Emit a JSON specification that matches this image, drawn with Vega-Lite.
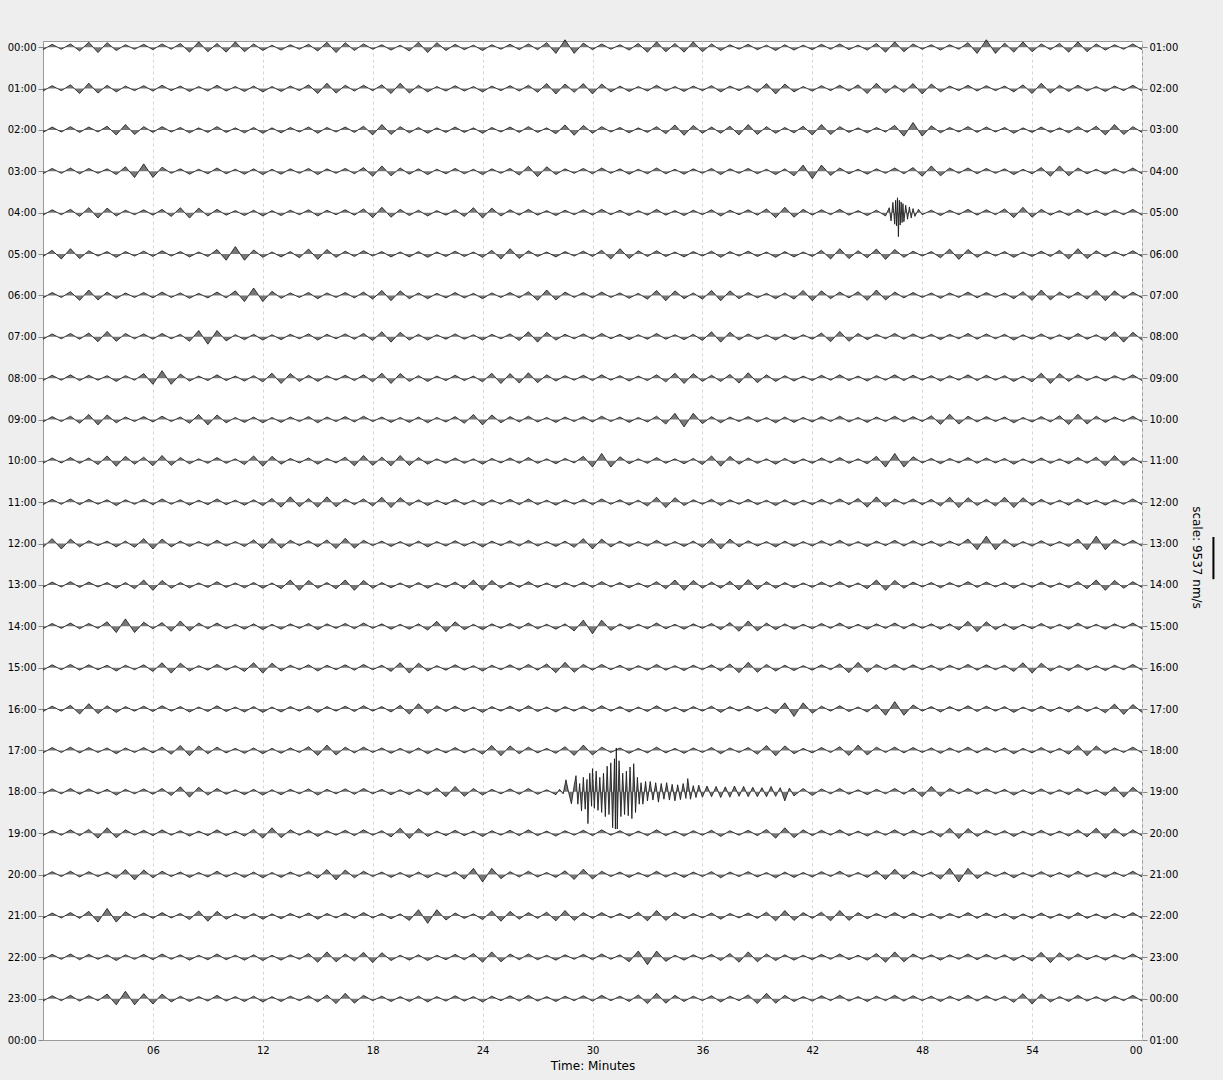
{
"$schema":"https://vega.github.io/schema/vega-lite/v6.json",
"width":1099,"height":999,
"autosize":{"type":"none"},
"padding":{"left":43,"top":41,"right":81,"bottom":40},
"background":"#eeeeee",
"config":{"view":{"fill":"#ffffff","stroke":"#9a9a9a","strokeWidth":1},
"axis":{"labelFont":"DejaVu Sans","labelFontSize":10,"labelColor":"#000000","titleFont":"DejaVu Sans","titleFontWeight":"normal","titleColor":"#000000","titleFontSize":12,"domain":false,"tickColor":"#888888"}},
"resolve":{"axis":{"y":"independent"}},
"data":{"values":[
{"r":0,"m":0,"y":0.06},{"r":0,"m":0.5,"y":-0.07},{"r":0,"m":1,"y":0.05},{"r":0,"m":1.5,"y":-0.08},{"r":0,"m":2,"y":0.09},{"r":0,"m":2.5,"y":-0.12},{"r":0,"m":3,"y":0.13},{"r":0,"m":3.5,"y":-0.11},{"r":0,"m":4,"y":0.08},{"r":0,"m":4.5,"y":-0.06},
{"r":0,"m":5,"y":0.05},{"r":0,"m":5.5,"y":-0.07},{"r":0,"m":6,"y":0.06},{"r":0,"m":6.5,"y":-0.08},{"r":0,"m":7,"y":0.05},{"r":0,"m":7.5,"y":-0.09},{"r":0,"m":8,"y":0.12},{"r":0,"m":8.5,"y":-0.13},{"r":0,"m":9,"y":0.11},{"r":0,"m":9.5,"y":-0.09},
{"r":0,"m":10,"y":0.12},{"r":0,"m":10.5,"y":-0.13},{"r":0,"m":11,"y":0.11},{"r":0,"m":11.5,"y":-0.08},{"r":0,"m":12,"y":0.08},{"r":0,"m":12.5,"y":-0.05},{"r":0,"m":13,"y":0.07},{"r":0,"m":13.5,"y":-0.06},{"r":0,"m":14,"y":0.05},{"r":0,"m":14.5,"y":-0.07},
{"r":0,"m":15,"y":0.09},{"r":0,"m":15.5,"y":-0.12},{"r":0,"m":16,"y":0.13},{"r":0,"m":16.5,"y":-0.11},{"r":0,"m":17,"y":0.08},{"r":0,"m":17.5,"y":-0.08},{"r":0,"m":18,"y":0.05},{"r":0,"m":18.5,"y":-0.06},{"r":0,"m":19,"y":0.07},{"r":0,"m":19.5,"y":-0.05},
{"r":0,"m":20,"y":0.09},{"r":0,"m":20.5,"y":-0.12},{"r":0,"m":21,"y":0.13},{"r":0,"m":21.5,"y":-0.11},{"r":0,"m":22,"y":0.08},{"r":0,"m":22.5,"y":-0.07},{"r":0,"m":23,"y":0.06},{"r":0,"m":23.5,"y":-0.05},{"r":0,"m":24,"y":0.08},{"r":0,"m":24.5,"y":-0.06},
{"r":0,"m":25,"y":0.05},{"r":0,"m":25.5,"y":-0.07},{"r":0,"m":26,"y":0.06},{"r":0,"m":26.5,"y":-0.08},{"r":0,"m":27,"y":0.06},{"r":0,"m":27.5,"y":-0.11},{"r":0,"m":28,"y":0.15},{"r":0,"m":28.5,"y":-0.18},{"r":0,"m":29,"y":0.15},{"r":0,"m":29.5,"y":-0.1},
{"r":0,"m":30,"y":0.06},{"r":0,"m":30.5,"y":-0.08},{"r":0,"m":31,"y":0.05},{"r":0,"m":31.5,"y":-0.06},{"r":0,"m":32,"y":0.07},{"r":0,"m":32.5,"y":-0.09},{"r":0,"m":33,"y":0.12},{"r":0,"m":33.5,"y":-0.13},{"r":0,"m":34,"y":0.11},{"r":0,"m":34.5,"y":-0.09},
{"r":0,"m":35,"y":0.12},{"r":0,"m":35.5,"y":-0.13},{"r":0,"m":36,"y":0.11},{"r":0,"m":36.5,"y":-0.08},{"r":0,"m":37,"y":0.08},{"r":0,"m":37.5,"y":-0.06},{"r":0,"m":38,"y":0.05},{"r":0,"m":38.5,"y":-0.07},{"r":0,"m":39,"y":0.06},{"r":0,"m":39.5,"y":-0.05},
{"r":0,"m":40,"y":0.08},{"r":0,"m":40.5,"y":-0.06},{"r":0,"m":41,"y":0.07},{"r":0,"m":41.5,"y":-0.05},{"r":0,"m":42,"y":0.06},{"r":0,"m":42.5,"y":-0.07},{"r":0,"m":43,"y":0.05},{"r":0,"m":43.5,"y":-0.08},{"r":0,"m":44,"y":0.06},{"r":0,"m":44.5,"y":-0.05},
{"r":0,"m":45,"y":0.07},{"r":0,"m":45.5,"y":-0.09},{"r":0,"m":46,"y":0.12},{"r":0,"m":46.5,"y":-0.13},{"r":0,"m":47,"y":0.11},{"r":0,"m":47.5,"y":-0.08},{"r":0,"m":48,"y":0.05},{"r":0,"m":48.5,"y":-0.06},{"r":0,"m":49,"y":0.07},{"r":0,"m":49.5,"y":-0.06},
{"r":0,"m":50,"y":0.05},{"r":0,"m":50.5,"y":-0.11},{"r":0,"m":51,"y":0.15},{"r":0,"m":51.5,"y":-0.18},{"r":0,"m":52,"y":0.15},{"r":0,"m":52.5,"y":-0.1},{"r":0,"m":53,"y":0.12},{"r":0,"m":53.5,"y":-0.13},{"r":0,"m":54,"y":0.11},{"r":0,"m":54.5,"y":-0.08},
{"r":0,"m":55,"y":0.06},{"r":0,"m":55.5,"y":-0.09},{"r":0,"m":56,"y":0.12},{"r":0,"m":56.5,"y":-0.13},{"r":0,"m":57,"y":0.11},{"r":0,"m":57.5,"y":-0.08},{"r":0,"m":58,"y":0.07},{"r":0,"m":58.5,"y":-0.06},{"r":0,"m":59,"y":0.05},{"r":0,"m":59.5,"y":-0.08},{"r":0,"m":60,"y":0.06},
{"r":1,"m":0,"y":1.06},{"r":1,"m":0.5,"y":0.93},{"r":1,"m":1,"y":1.05},{"r":1,"m":1.5,"y":0.91},{"r":1,"m":2,"y":1.12},{"r":1,"m":2.5,"y":0.87},{"r":1,"m":3,"y":1.11},{"r":1,"m":3.5,"y":0.92},{"r":1,"m":4,"y":1.08},{"r":1,"m":4.5,"y":0.94},
{"r":1,"m":5,"y":1.05},{"r":1,"m":5.5,"y":0.93},{"r":1,"m":6,"y":1.06},{"r":1,"m":6.5,"y":0.92},{"r":1,"m":7,"y":1.05},{"r":1,"m":7.5,"y":0.94},{"r":1,"m":8,"y":1.07},{"r":1,"m":8.5,"y":0.95},{"r":1,"m":9,"y":1.06},{"r":1,"m":9.5,"y":0.92},
{"r":1,"m":10,"y":1.06},{"r":1,"m":10.5,"y":0.95},{"r":1,"m":11,"y":1.07},{"r":1,"m":11.5,"y":0.94},{"r":1,"m":12,"y":1.08},{"r":1,"m":12.5,"y":0.95},{"r":1,"m":13,"y":1.07},{"r":1,"m":13.5,"y":0.94},{"r":1,"m":14,"y":1.05},{"r":1,"m":14.5,"y":0.91},
{"r":1,"m":15,"y":1.12},{"r":1,"m":15.5,"y":0.87},{"r":1,"m":16,"y":1.11},{"r":1,"m":16.5,"y":0.92},{"r":1,"m":17,"y":1.06},{"r":1,"m":17.5,"y":0.92},{"r":1,"m":18,"y":1.05},{"r":1,"m":18.5,"y":0.91},{"r":1,"m":19,"y":1.12},{"r":1,"m":19.5,"y":0.87},
{"r":1,"m":20,"y":1.11},{"r":1,"m":20.5,"y":0.92},{"r":1,"m":21,"y":1.08},{"r":1,"m":21.5,"y":0.95},{"r":1,"m":22,"y":1.06},{"r":1,"m":22.5,"y":0.93},{"r":1,"m":23,"y":1.06},{"r":1,"m":23.5,"y":0.95},{"r":1,"m":24,"y":1.08},{"r":1,"m":24.5,"y":0.94},
{"r":1,"m":25,"y":1.05},{"r":1,"m":25.5,"y":0.93},{"r":1,"m":26,"y":1.06},{"r":1,"m":26.5,"y":0.92},{"r":1,"m":27,"y":1.09},{"r":1,"m":27.5,"y":0.88},{"r":1,"m":28,"y":1.13},{"r":1,"m":28.5,"y":0.89},{"r":1,"m":29,"y":1.09},{"r":1,"m":29.5,"y":0.88},
{"r":1,"m":30,"y":1.13},{"r":1,"m":30.5,"y":0.89},{"r":1,"m":31,"y":1.08},{"r":1,"m":31.5,"y":0.94},{"r":1,"m":32,"y":1.07},{"r":1,"m":32.5,"y":0.95},{"r":1,"m":33,"y":1.06},{"r":1,"m":33.5,"y":0.92},{"r":1,"m":34,"y":1.06},{"r":1,"m":34.5,"y":0.95},
{"r":1,"m":35,"y":1.07},{"r":1,"m":35.5,"y":0.94},{"r":1,"m":36,"y":1.05},{"r":1,"m":36.5,"y":0.93},{"r":1,"m":37,"y":1.08},{"r":1,"m":37.5,"y":0.94},{"r":1,"m":38,"y":1.05},{"r":1,"m":38.5,"y":0.93},{"r":1,"m":39,"y":1.09},{"r":1,"m":39.5,"y":0.88},
{"r":1,"m":40,"y":1.13},{"r":1,"m":40.5,"y":0.89},{"r":1,"m":41,"y":1.08},{"r":1,"m":41.5,"y":0.95},{"r":1,"m":42,"y":1.06},{"r":1,"m":42.5,"y":0.93},{"r":1,"m":43,"y":1.05},{"r":1,"m":43.5,"y":0.92},{"r":1,"m":44,"y":1.06},{"r":1,"m":44.5,"y":0.91},
{"r":1,"m":45,"y":1.12},{"r":1,"m":45.5,"y":0.87},{"r":1,"m":46,"y":1.11},{"r":1,"m":46.5,"y":0.92},{"r":1,"m":47,"y":1.09},{"r":1,"m":47.5,"y":0.88},{"r":1,"m":48,"y":1.13},{"r":1,"m":48.5,"y":0.89},{"r":1,"m":49,"y":1.08},{"r":1,"m":49.5,"y":0.94},
{"r":1,"m":50,"y":1.05},{"r":1,"m":50.5,"y":0.92},{"r":1,"m":51,"y":1.06},{"r":1,"m":51.5,"y":0.93},{"r":1,"m":52,"y":1.05},{"r":1,"m":52.5,"y":0.94},{"r":1,"m":53,"y":1.08},{"r":1,"m":53.5,"y":0.91},{"r":1,"m":54,"y":1.12},{"r":1,"m":54.5,"y":0.87},
{"r":1,"m":55,"y":1.11},{"r":1,"m":55.5,"y":0.92},{"r":1,"m":56,"y":1.07},{"r":1,"m":56.5,"y":0.92},{"r":1,"m":57,"y":1.06},{"r":1,"m":57.5,"y":0.95},{"r":1,"m":58,"y":1.07},{"r":1,"m":58.5,"y":0.94},{"r":1,"m":59,"y":1.05},{"r":1,"m":59.5,"y":0.92},{"r":1,"m":60,"y":1.06},
{"r":2,"m":0,"y":2.06},{"r":2,"m":0.5,"y":1.93},{"r":2,"m":1,"y":2.05},{"r":2,"m":1.5,"y":1.92},{"r":2,"m":2,"y":2.06},{"r":2,"m":2.5,"y":1.93},{"r":2,"m":3,"y":2.05},{"r":2,"m":3.5,"y":1.91},{"r":2,"m":4,"y":2.12},{"r":2,"m":4.5,"y":1.87},
{"r":2,"m":5,"y":2.11},{"r":2,"m":5.5,"y":1.92},{"r":2,"m":6,"y":2.06},{"r":2,"m":6.5,"y":1.92},{"r":2,"m":7,"y":2.05},{"r":2,"m":7.5,"y":1.94},{"r":2,"m":8,"y":2.07},{"r":2,"m":8.5,"y":1.95},{"r":2,"m":9,"y":2.06},{"r":2,"m":9.5,"y":1.92},
{"r":2,"m":10,"y":2.06},{"r":2,"m":10.5,"y":1.95},{"r":2,"m":11,"y":2.07},{"r":2,"m":11.5,"y":1.94},{"r":2,"m":12,"y":2.08},{"r":2,"m":12.5,"y":1.95},{"r":2,"m":13,"y":2.07},{"r":2,"m":13.5,"y":1.94},{"r":2,"m":14,"y":2.05},{"r":2,"m":14.5,"y":1.93},
{"r":2,"m":15,"y":2.08},{"r":2,"m":15.5,"y":1.94},{"r":2,"m":16,"y":2.05},{"r":2,"m":16.5,"y":1.93},{"r":2,"m":17,"y":2.06},{"r":2,"m":17.5,"y":1.91},{"r":2,"m":18,"y":2.12},{"r":2,"m":18.5,"y":1.87},{"r":2,"m":19,"y":2.11},{"r":2,"m":19.5,"y":1.92},
{"r":2,"m":20,"y":2.07},{"r":2,"m":20.5,"y":1.94},{"r":2,"m":21,"y":2.08},{"r":2,"m":21.5,"y":1.95},{"r":2,"m":22,"y":2.06},{"r":2,"m":22.5,"y":1.93},{"r":2,"m":23,"y":2.06},{"r":2,"m":23.5,"y":1.95},{"r":2,"m":24,"y":2.08},{"r":2,"m":24.5,"y":1.94},
{"r":2,"m":25,"y":2.05},{"r":2,"m":25.5,"y":1.93},{"r":2,"m":26,"y":2.06},{"r":2,"m":26.5,"y":1.92},{"r":2,"m":27,"y":2.06},{"r":2,"m":27.5,"y":1.95},{"r":2,"m":28,"y":2.09},{"r":2,"m":28.5,"y":1.88},{"r":2,"m":29,"y":2.13},{"r":2,"m":29.5,"y":1.89},
{"r":2,"m":30,"y":2.08},{"r":2,"m":30.5,"y":1.92},{"r":2,"m":31,"y":2.05},{"r":2,"m":31.5,"y":1.94},{"r":2,"m":32,"y":2.07},{"r":2,"m":32.5,"y":1.95},{"r":2,"m":33,"y":2.06},{"r":2,"m":33.5,"y":1.92},{"r":2,"m":34,"y":2.09},{"r":2,"m":34.5,"y":1.88},
{"r":2,"m":35,"y":2.13},{"r":2,"m":35.5,"y":1.89},{"r":2,"m":36,"y":2.08},{"r":2,"m":36.5,"y":1.93},{"r":2,"m":37,"y":2.08},{"r":2,"m":37.5,"y":1.91},{"r":2,"m":38,"y":2.12},{"r":2,"m":38.5,"y":1.87},{"r":2,"m":39,"y":2.11},{"r":2,"m":39.5,"y":1.92},
{"r":2,"m":40,"y":2.08},{"r":2,"m":40.5,"y":1.94},{"r":2,"m":41,"y":2.07},{"r":2,"m":41.5,"y":1.91},{"r":2,"m":42,"y":2.12},{"r":2,"m":42.5,"y":1.87},{"r":2,"m":43,"y":2.11},{"r":2,"m":43.5,"y":1.92},{"r":2,"m":44,"y":2.06},{"r":2,"m":44.5,"y":1.95},
{"r":2,"m":45,"y":2.07},{"r":2,"m":45.5,"y":1.94},{"r":2,"m":46,"y":2.05},{"r":2,"m":46.5,"y":1.89},{"r":2,"m":47,"y":2.15},{"r":2,"m":47.5,"y":1.82},{"r":2,"m":48,"y":2.15},{"r":2,"m":48.5,"y":1.9},{"r":2,"m":49,"y":2.07},{"r":2,"m":49.5,"y":1.94},
{"r":2,"m":50,"y":2.05},{"r":2,"m":50.5,"y":1.92},{"r":2,"m":51,"y":2.06},{"r":2,"m":51.5,"y":1.93},{"r":2,"m":52,"y":2.05},{"r":2,"m":52.5,"y":1.94},{"r":2,"m":53,"y":2.08},{"r":2,"m":53.5,"y":1.95},{"r":2,"m":54,"y":2.06},{"r":2,"m":54.5,"y":1.93},
{"r":2,"m":55,"y":2.06},{"r":2,"m":55.5,"y":1.95},{"r":2,"m":56,"y":2.07},{"r":2,"m":56.5,"y":1.92},{"r":2,"m":57,"y":2.06},{"r":2,"m":57.5,"y":1.91},{"r":2,"m":58,"y":2.12},{"r":2,"m":58.5,"y":1.87},{"r":2,"m":59,"y":2.11},{"r":2,"m":59.5,"y":1.92},{"r":2,"m":60,"y":2.06},
{"r":3,"m":0,"y":3.06},{"r":3,"m":0.5,"y":2.93},{"r":3,"m":1,"y":3.05},{"r":3,"m":1.5,"y":2.92},{"r":3,"m":2,"y":3.06},{"r":3,"m":2.5,"y":2.93},{"r":3,"m":3,"y":3.05},{"r":3,"m":3.5,"y":2.94},{"r":3,"m":4,"y":3.08},{"r":3,"m":4.5,"y":2.89},
{"r":3,"m":5,"y":3.15},{"r":3,"m":5.5,"y":2.82},{"r":3,"m":6,"y":3.15},{"r":3,"m":6.5,"y":2.9},{"r":3,"m":7,"y":3.05},{"r":3,"m":7.5,"y":2.94},{"r":3,"m":8,"y":3.07},{"r":3,"m":8.5,"y":2.95},{"r":3,"m":9,"y":3.06},{"r":3,"m":9.5,"y":2.92},
{"r":3,"m":10,"y":3.06},{"r":3,"m":10.5,"y":2.95},{"r":3,"m":11,"y":3.07},{"r":3,"m":11.5,"y":2.94},{"r":3,"m":12,"y":3.08},{"r":3,"m":12.5,"y":2.95},{"r":3,"m":13,"y":3.07},{"r":3,"m":13.5,"y":2.94},{"r":3,"m":14,"y":3.05},{"r":3,"m":14.5,"y":2.93},
{"r":3,"m":15,"y":3.08},{"r":3,"m":15.5,"y":2.94},{"r":3,"m":16,"y":3.05},{"r":3,"m":16.5,"y":2.93},{"r":3,"m":17,"y":3.06},{"r":3,"m":17.5,"y":2.91},{"r":3,"m":18,"y":3.12},{"r":3,"m":18.5,"y":2.87},{"r":3,"m":19,"y":3.11},{"r":3,"m":19.5,"y":2.92},
{"r":3,"m":20,"y":3.07},{"r":3,"m":20.5,"y":2.94},{"r":3,"m":21,"y":3.08},{"r":3,"m":21.5,"y":2.95},{"r":3,"m":22,"y":3.06},{"r":3,"m":22.5,"y":2.93},{"r":3,"m":23,"y":3.06},{"r":3,"m":23.5,"y":2.95},{"r":3,"m":24,"y":3.08},{"r":3,"m":24.5,"y":2.94},
{"r":3,"m":25,"y":3.05},{"r":3,"m":25.5,"y":2.93},{"r":3,"m":26,"y":3.09},{"r":3,"m":26.5,"y":2.88},{"r":3,"m":27,"y":3.13},{"r":3,"m":27.5,"y":2.89},{"r":3,"m":28,"y":3.08},{"r":3,"m":28.5,"y":2.94},{"r":3,"m":29,"y":3.05},{"r":3,"m":29.5,"y":2.93},
{"r":3,"m":30,"y":3.06},{"r":3,"m":30.5,"y":2.92},{"r":3,"m":31,"y":3.05},{"r":3,"m":31.5,"y":2.94},{"r":3,"m":32,"y":3.07},{"r":3,"m":32.5,"y":2.95},{"r":3,"m":33,"y":3.06},{"r":3,"m":33.5,"y":2.92},{"r":3,"m":34,"y":3.06},{"r":3,"m":34.5,"y":2.95},
{"r":3,"m":35,"y":3.07},{"r":3,"m":35.5,"y":2.94},{"r":3,"m":36,"y":3.05},{"r":3,"m":36.5,"y":2.93},{"r":3,"m":37,"y":3.08},{"r":3,"m":37.5,"y":2.94},{"r":3,"m":38,"y":3.05},{"r":3,"m":38.5,"y":2.93},{"r":3,"m":39,"y":3.06},{"r":3,"m":39.5,"y":2.95},
{"r":3,"m":40,"y":3.08},{"r":3,"m":40.5,"y":2.94},{"r":3,"m":41,"y":3.11},{"r":3,"m":41.5,"y":2.85},{"r":3,"m":42,"y":3.18},{"r":3,"m":42.5,"y":2.85},{"r":3,"m":43,"y":3.1},{"r":3,"m":43.5,"y":2.92},{"r":3,"m":44,"y":3.06},{"r":3,"m":44.5,"y":2.95},
{"r":3,"m":45,"y":3.07},{"r":3,"m":45.5,"y":2.94},{"r":3,"m":46,"y":3.05},{"r":3,"m":46.5,"y":2.92},{"r":3,"m":47,"y":3.06},{"r":3,"m":47.5,"y":2.91},{"r":3,"m":48,"y":3.12},{"r":3,"m":48.5,"y":2.87},{"r":3,"m":49,"y":3.11},{"r":3,"m":49.5,"y":2.92},
{"r":3,"m":50,"y":3.05},{"r":3,"m":50.5,"y":2.92},{"r":3,"m":51,"y":3.06},{"r":3,"m":51.5,"y":2.93},{"r":3,"m":52,"y":3.05},{"r":3,"m":52.5,"y":2.94},{"r":3,"m":53,"y":3.08},{"r":3,"m":53.5,"y":2.95},{"r":3,"m":54,"y":3.06},{"r":3,"m":54.5,"y":2.91},
{"r":3,"m":55,"y":3.12},{"r":3,"m":55.5,"y":2.87},{"r":3,"m":56,"y":3.11},{"r":3,"m":56.5,"y":2.92},{"r":3,"m":57,"y":3.06},{"r":3,"m":57.5,"y":2.95},{"r":3,"m":58,"y":3.07},{"r":3,"m":58.5,"y":2.94},{"r":3,"m":59,"y":3.05},{"r":3,"m":59.5,"y":2.92},{"r":3,"m":60,"y":3.06},
{"r":4,"m":0,"y":4.06},{"r":4,"m":0.5,"y":3.93},{"r":4,"m":1,"y":4.05},{"r":4,"m":1.5,"y":3.92},{"r":4,"m":2,"y":4.09},{"r":4,"m":2.5,"y":3.88},{"r":4,"m":3,"y":4.13},{"r":4,"m":3.5,"y":3.89},{"r":4,"m":4,"y":4.08},{"r":4,"m":4.5,"y":3.94},
{"r":4,"m":5,"y":4.05},{"r":4,"m":5.5,"y":3.93},{"r":4,"m":6,"y":4.06},{"r":4,"m":6.5,"y":3.92},{"r":4,"m":7,"y":4.09},{"r":4,"m":7.5,"y":3.88},{"r":4,"m":8,"y":4.13},{"r":4,"m":8.5,"y":3.89},{"r":4,"m":9,"y":4.08},{"r":4,"m":9.5,"y":3.92},
{"r":4,"m":10,"y":4.06},{"r":4,"m":10.5,"y":3.95},{"r":4,"m":11,"y":4.07},{"r":4,"m":11.5,"y":3.94},{"r":4,"m":12,"y":4.08},{"r":4,"m":12.5,"y":3.95},{"r":4,"m":13,"y":4.07},{"r":4,"m":13.5,"y":3.94},{"r":4,"m":14,"y":4.05},{"r":4,"m":14.5,"y":3.93},
{"r":4,"m":15,"y":4.08},{"r":4,"m":15.5,"y":3.94},{"r":4,"m":16,"y":4.05},{"r":4,"m":16.5,"y":3.93},{"r":4,"m":17,"y":4.06},{"r":4,"m":17.5,"y":3.91},{"r":4,"m":18,"y":4.12},{"r":4,"m":18.5,"y":3.87},{"r":4,"m":19,"y":4.11},{"r":4,"m":19.5,"y":3.92},
{"r":4,"m":20,"y":4.07},{"r":4,"m":20.5,"y":3.94},{"r":4,"m":21,"y":4.08},{"r":4,"m":21.5,"y":3.95},{"r":4,"m":22,"y":4.06},{"r":4,"m":22.5,"y":3.93},{"r":4,"m":23,"y":4.09},{"r":4,"m":23.5,"y":3.88},{"r":4,"m":24,"y":4.13},{"r":4,"m":24.5,"y":3.89},
{"r":4,"m":25,"y":4.08},{"r":4,"m":25.5,"y":3.93},{"r":4,"m":26,"y":4.06},{"r":4,"m":26.5,"y":3.92},{"r":4,"m":27,"y":4.06},{"r":4,"m":27.5,"y":3.95},{"r":4,"m":28,"y":4.07},{"r":4,"m":28.5,"y":3.94},{"r":4,"m":29,"y":4.05},{"r":4,"m":29.5,"y":3.93},
{"r":4,"m":30,"y":4.06},{"r":4,"m":30.5,"y":3.92},{"r":4,"m":31,"y":4.05},{"r":4,"m":31.5,"y":3.94},{"r":4,"m":32,"y":4.07},{"r":4,"m":32.5,"y":3.95},{"r":4,"m":33,"y":4.06},{"r":4,"m":33.5,"y":3.92},{"r":4,"m":34,"y":4.06},{"r":4,"m":34.5,"y":3.95},
{"r":4,"m":35,"y":4.07},{"r":4,"m":35.5,"y":3.94},{"r":4,"m":36,"y":4.05},{"r":4,"m":36.5,"y":3.93},{"r":4,"m":37,"y":4.08},{"r":4,"m":37.5,"y":3.94},{"r":4,"m":38,"y":4.05},{"r":4,"m":38.5,"y":3.93},{"r":4,"m":39,"y":4.06},{"r":4,"m":39.5,"y":3.91},
{"r":4,"m":40,"y":4.12},{"r":4,"m":40.5,"y":3.87},{"r":4,"m":41,"y":4.11},{"r":4,"m":41.5,"y":3.92},{"r":4,"m":42,"y":4.06},{"r":4,"m":42.5,"y":3.93},{"r":4,"m":43,"y":4.05},{"r":4,"m":43.5,"y":3.92},{"r":4,"m":44,"y":4.06},{"r":4,"m":44.5,"y":3.95},
{"r":4,"m":45,"y":4.07},{"r":4,"m":45.5,"y":3.94},{"r":4,"m":46,"y":4.08},{"r":4,"m":46.2,"y":3.88},{"r":4,"m":46.3,"y":4.2},{"r":4,"m":46.4,"y":3.75},{"r":4,"m":46.5,"y":4.28},{"r":4,"m":46.55,"y":3.7},{"r":4,"m":46.6,"y":4.32},{"r":4,"m":46.65,"y":3.64},{"r":4,"m":46.7,"y":4.58},{"r":4,"m":46.75,"y":3.7},{"r":4,"m":46.8,"y":4.3},{"r":4,"m":46.85,"y":3.74},{"r":4,"m":46.9,"y":4.24},{"r":4,"m":46.95,"y":3.78},{"r":4,"m":47,"y":4.22},{"r":4,"m":47.1,"y":3.82},{"r":4,"m":47.2,"y":4.16},{"r":4,"m":47.3,"y":3.86},{"r":4,"m":47.4,"y":4.13},{"r":4,"m":47.5,"y":3.9},{"r":4,"m":47.6,"y":4.09},{"r":4,"m":47.8,"y":3.92},
{"r":4,"m":48,"y":4.05},{"r":4,"m":48.5,"y":3.94},{"r":4,"m":49,"y":4.07},{"r":4,"m":49.5,"y":3.94},
{"r":4,"m":50,"y":4.05},{"r":4,"m":50.5,"y":3.92},{"r":4,"m":51,"y":4.06},{"r":4,"m":51.5,"y":3.93},{"r":4,"m":52,"y":4.05},{"r":4,"m":52.5,"y":3.91},{"r":4,"m":53,"y":4.12},{"r":4,"m":53.5,"y":3.87},{"r":4,"m":54,"y":4.11},{"r":4,"m":54.5,"y":3.92},
{"r":4,"m":55,"y":4.06},{"r":4,"m":55.5,"y":3.95},{"r":4,"m":56,"y":4.07},{"r":4,"m":56.5,"y":3.92},{"r":4,"m":57,"y":4.06},{"r":4,"m":57.5,"y":3.95},{"r":4,"m":58,"y":4.07},{"r":4,"m":58.5,"y":3.94},{"r":4,"m":59,"y":4.05},{"r":4,"m":59.5,"y":3.92},{"r":4,"m":60,"y":4.06},
{"r":5,"m":0,"y":5.06},{"r":5,"m":0.5,"y":4.91},{"r":5,"m":1,"y":5.12},{"r":5,"m":1.5,"y":4.87},{"r":5,"m":2,"y":5.11},{"r":5,"m":2.5,"y":4.92},{"r":5,"m":3,"y":5.05},{"r":5,"m":3.5,"y":4.94},{"r":5,"m":4,"y":5.08},{"r":5,"m":4.5,"y":4.94},
{"r":5,"m":5,"y":5.05},{"r":5,"m":5.5,"y":4.93},{"r":5,"m":6,"y":5.06},{"r":5,"m":6.5,"y":4.92},{"r":5,"m":7,"y":5.05},{"r":5,"m":7.5,"y":4.94},{"r":5,"m":8,"y":5.07},{"r":5,"m":8.5,"y":4.95},{"r":5,"m":9,"y":5.06},{"r":5,"m":9.5,"y":4.89},
{"r":5,"m":10,"y":5.15},{"r":5,"m":10.5,"y":4.82},{"r":5,"m":11,"y":5.15},{"r":5,"m":11.5,"y":4.9},{"r":5,"m":12,"y":5.08},{"r":5,"m":12.5,"y":4.95},{"r":5,"m":13,"y":5.07},{"r":5,"m":13.5,"y":4.94},{"r":5,"m":14,"y":5.09},{"r":5,"m":14.5,"y":4.88},
{"r":5,"m":15,"y":5.13},{"r":5,"m":15.5,"y":4.89},{"r":5,"m":16,"y":5.08},{"r":5,"m":16.5,"y":4.93},{"r":5,"m":17,"y":5.06},{"r":5,"m":17.5,"y":4.92},{"r":5,"m":18,"y":5.05},{"r":5,"m":18.5,"y":4.94},{"r":5,"m":19,"y":5.07},{"r":5,"m":19.5,"y":4.95},
{"r":5,"m":20,"y":5.07},{"r":5,"m":20.5,"y":4.94},{"r":5,"m":21,"y":5.08},{"r":5,"m":21.5,"y":4.95},{"r":5,"m":22,"y":5.06},{"r":5,"m":22.5,"y":4.93},{"r":5,"m":23,"y":5.06},{"r":5,"m":23.5,"y":4.95},{"r":5,"m":24,"y":5.08},{"r":5,"m":24.5,"y":4.91},
{"r":5,"m":25,"y":5.12},{"r":5,"m":25.5,"y":4.87},{"r":5,"m":26,"y":5.11},{"r":5,"m":26.5,"y":4.92},{"r":5,"m":27,"y":5.06},{"r":5,"m":27.5,"y":4.95},{"r":5,"m":28,"y":5.07},{"r":5,"m":28.5,"y":4.94},{"r":5,"m":29,"y":5.05},{"r":5,"m":29.5,"y":4.93},
{"r":5,"m":30,"y":5.06},{"r":5,"m":30.5,"y":4.91},{"r":5,"m":31,"y":5.12},{"r":5,"m":31.5,"y":4.87},{"r":5,"m":32,"y":5.11},{"r":5,"m":32.5,"y":4.92},{"r":5,"m":33,"y":5.06},{"r":5,"m":33.5,"y":4.92},{"r":5,"m":34,"y":5.06},{"r":5,"m":34.5,"y":4.95},
{"r":5,"m":35,"y":5.07},{"r":5,"m":35.5,"y":4.94},{"r":5,"m":36,"y":5.05},{"r":5,"m":36.5,"y":4.93},{"r":5,"m":37,"y":5.08},{"r":5,"m":37.5,"y":4.94},{"r":5,"m":38,"y":5.05},{"r":5,"m":38.5,"y":4.93},{"r":5,"m":39,"y":5.06},{"r":5,"m":39.5,"y":4.95},
{"r":5,"m":40,"y":5.08},{"r":5,"m":40.5,"y":4.94},{"r":5,"m":41,"y":5.07},{"r":5,"m":41.5,"y":4.95},{"r":5,"m":42,"y":5.06},{"r":5,"m":42.5,"y":4.91},{"r":5,"m":43,"y":5.12},{"r":5,"m":43.5,"y":4.87},{"r":5,"m":44,"y":5.11},{"r":5,"m":44.5,"y":4.92},
{"r":5,"m":45,"y":5.09},{"r":5,"m":45.5,"y":4.88},{"r":5,"m":46,"y":5.13},{"r":5,"m":46.5,"y":4.89},{"r":5,"m":47,"y":5.08},{"r":5,"m":47.5,"y":4.93},{"r":5,"m":48,"y":5.05},{"r":5,"m":48.5,"y":4.94},{"r":5,"m":49,"y":5.09},{"r":5,"m":49.5,"y":4.88},
{"r":5,"m":50,"y":5.13},{"r":5,"m":50.5,"y":4.89},{"r":5,"m":51,"y":5.08},{"r":5,"m":51.5,"y":4.93},{"r":5,"m":52,"y":5.05},{"r":5,"m":52.5,"y":4.94},{"r":5,"m":53,"y":5.08},{"r":5,"m":53.5,"y":4.95},{"r":5,"m":54,"y":5.06},{"r":5,"m":54.5,"y":4.93},
{"r":5,"m":55,"y":5.06},{"r":5,"m":55.5,"y":4.91},{"r":5,"m":56,"y":5.12},{"r":5,"m":56.5,"y":4.87},{"r":5,"m":57,"y":5.11},{"r":5,"m":57.5,"y":4.92},{"r":5,"m":58,"y":5.07},{"r":5,"m":58.5,"y":4.94},{"r":5,"m":59,"y":5.05},{"r":5,"m":59.5,"y":4.92},{"r":5,"m":60,"y":5.06},
{"r":6,"m":0,"y":6.06},{"r":6,"m":0.5,"y":5.93},{"r":6,"m":1,"y":6.05},{"r":6,"m":1.5,"y":5.91},{"r":6,"m":2,"y":6.12},{"r":6,"m":2.5,"y":5.87},{"r":6,"m":3,"y":6.11},{"r":6,"m":3.5,"y":5.92},{"r":6,"m":4,"y":6.08},{"r":6,"m":4.5,"y":5.94},
{"r":6,"m":5,"y":6.05},{"r":6,"m":5.5,"y":5.93},{"r":6,"m":6,"y":6.06},{"r":6,"m":6.5,"y":5.92},{"r":6,"m":7,"y":6.05},{"r":6,"m":7.5,"y":5.94},{"r":6,"m":8,"y":6.07},{"r":6,"m":8.5,"y":5.95},{"r":6,"m":9,"y":6.06},{"r":6,"m":9.5,"y":5.92},
{"r":6,"m":10,"y":6.06},{"r":6,"m":10.5,"y":5.89},{"r":6,"m":11,"y":6.15},{"r":6,"m":11.5,"y":5.82},{"r":6,"m":12,"y":6.15},{"r":6,"m":12.5,"y":5.9},{"r":6,"m":13,"y":6.07},{"r":6,"m":13.5,"y":5.94},{"r":6,"m":14,"y":6.05},{"r":6,"m":14.5,"y":5.93},
{"r":6,"m":15,"y":6.08},{"r":6,"m":15.5,"y":5.94},{"r":6,"m":16,"y":6.05},{"r":6,"m":16.5,"y":5.93},{"r":6,"m":17,"y":6.06},{"r":6,"m":17.5,"y":5.92},{"r":6,"m":18,"y":6.09},{"r":6,"m":18.5,"y":5.88},{"r":6,"m":19,"y":6.13},{"r":6,"m":19.5,"y":5.89},
{"r":6,"m":20,"y":6.08},{"r":6,"m":20.5,"y":5.94},{"r":6,"m":21,"y":6.08},{"r":6,"m":21.5,"y":5.95},{"r":6,"m":22,"y":6.06},{"r":6,"m":22.5,"y":5.93},{"r":6,"m":23,"y":6.06},{"r":6,"m":23.5,"y":5.95},{"r":6,"m":24,"y":6.08},{"r":6,"m":24.5,"y":5.94},
{"r":6,"m":25,"y":6.05},{"r":6,"m":25.5,"y":5.93},{"r":6,"m":26,"y":6.06},{"r":6,"m":26.5,"y":5.91},{"r":6,"m":27,"y":6.12},{"r":6,"m":27.5,"y":5.87},{"r":6,"m":28,"y":6.11},{"r":6,"m":28.5,"y":5.92},{"r":6,"m":29,"y":6.05},{"r":6,"m":29.5,"y":5.93},
{"r":6,"m":30,"y":6.06},{"r":6,"m":30.5,"y":5.92},{"r":6,"m":31,"y":6.05},{"r":6,"m":31.5,"y":5.94},{"r":6,"m":32,"y":6.07},{"r":6,"m":32.5,"y":5.95},{"r":6,"m":33,"y":6.09},{"r":6,"m":33.5,"y":5.88},{"r":6,"m":34,"y":6.13},{"r":6,"m":34.5,"y":5.89},
{"r":6,"m":35,"y":6.08},{"r":6,"m":35.5,"y":5.94},{"r":6,"m":36,"y":6.09},{"r":6,"m":36.5,"y":5.88},{"r":6,"m":37,"y":6.13},{"r":6,"m":37.5,"y":5.89},{"r":6,"m":38,"y":6.08},{"r":6,"m":38.5,"y":5.93},{"r":6,"m":39,"y":6.06},{"r":6,"m":39.5,"y":5.95},
{"r":6,"m":40,"y":6.08},{"r":6,"m":40.5,"y":5.94},{"r":6,"m":41,"y":6.09},{"r":6,"m":41.5,"y":5.88},{"r":6,"m":42,"y":6.13},{"r":6,"m":42.5,"y":5.89},{"r":6,"m":43,"y":6.08},{"r":6,"m":43.5,"y":5.92},{"r":6,"m":44,"y":6.06},{"r":6,"m":44.5,"y":5.91},
{"r":6,"m":45,"y":6.12},{"r":6,"m":45.5,"y":5.87},{"r":6,"m":46,"y":6.11},{"r":6,"m":46.5,"y":5.92},{"r":6,"m":47,"y":6.06},{"r":6,"m":47.5,"y":5.93},{"r":6,"m":48,"y":6.05},{"r":6,"m":48.5,"y":5.94},{"r":6,"m":49,"y":6.07},{"r":6,"m":49.5,"y":5.94},
{"r":6,"m":50,"y":6.05},{"r":6,"m":50.5,"y":5.92},{"r":6,"m":51,"y":6.06},{"r":6,"m":51.5,"y":5.93},{"r":6,"m":52,"y":6.05},{"r":6,"m":52.5,"y":5.94},{"r":6,"m":53,"y":6.08},{"r":6,"m":53.5,"y":5.91},{"r":6,"m":54,"y":6.12},{"r":6,"m":54.5,"y":5.87},
{"r":6,"m":55,"y":6.11},{"r":6,"m":55.5,"y":5.92},{"r":6,"m":56,"y":6.07},{"r":6,"m":56.5,"y":5.92},{"r":6,"m":57,"y":6.09},{"r":6,"m":57.5,"y":5.88},{"r":6,"m":58,"y":6.13},{"r":6,"m":58.5,"y":5.89},{"r":6,"m":59,"y":6.08},{"r":6,"m":59.5,"y":5.92},{"r":6,"m":60,"y":6.06},
{"r":7,"m":0,"y":7.06},{"r":7,"m":0.5,"y":6.93},{"r":7,"m":1,"y":7.05},{"r":7,"m":1.5,"y":6.92},{"r":7,"m":2,"y":7.06},{"r":7,"m":2.5,"y":6.91},{"r":7,"m":3,"y":7.12},{"r":7,"m":3.5,"y":6.87},{"r":7,"m":4,"y":7.11},{"r":7,"m":4.5,"y":6.92},
{"r":7,"m":5,"y":7.05},{"r":7,"m":5.5,"y":6.93},{"r":7,"m":6,"y":7.06},{"r":7,"m":6.5,"y":6.92},{"r":7,"m":7,"y":7.05},{"r":7,"m":7.5,"y":6.94},{"r":7,"m":8,"y":7.11},{"r":7,"m":8.5,"y":6.85},{"r":7,"m":9,"y":7.18},{"r":7,"m":9.5,"y":6.85},
{"r":7,"m":10,"y":7.1},{"r":7,"m":10.5,"y":6.95},{"r":7,"m":11,"y":7.07},{"r":7,"m":11.5,"y":6.94},{"r":7,"m":12,"y":7.08},{"r":7,"m":12.5,"y":6.95},{"r":7,"m":13,"y":7.07},{"r":7,"m":13.5,"y":6.94},{"r":7,"m":14,"y":7.05},{"r":7,"m":14.5,"y":6.93},
{"r":7,"m":15,"y":7.08},{"r":7,"m":15.5,"y":6.94},{"r":7,"m":16,"y":7.05},{"r":7,"m":16.5,"y":6.93},{"r":7,"m":17,"y":7.06},{"r":7,"m":17.5,"y":6.92},{"r":7,"m":18,"y":7.09},{"r":7,"m":18.5,"y":6.88},{"r":7,"m":19,"y":7.13},{"r":7,"m":19.5,"y":6.89},
{"r":7,"m":20,"y":7.08},{"r":7,"m":20.5,"y":6.94},{"r":7,"m":21,"y":7.08},{"r":7,"m":21.5,"y":6.95},{"r":7,"m":22,"y":7.06},{"r":7,"m":22.5,"y":6.93},{"r":7,"m":23,"y":7.06},{"r":7,"m":23.5,"y":6.95},{"r":7,"m":24,"y":7.08},{"r":7,"m":24.5,"y":6.94},
{"r":7,"m":25,"y":7.05},{"r":7,"m":25.5,"y":6.93},{"r":7,"m":26,"y":7.09},{"r":7,"m":26.5,"y":6.88},{"r":7,"m":27,"y":7.13},{"r":7,"m":27.5,"y":6.89},{"r":7,"m":28,"y":7.08},{"r":7,"m":28.5,"y":6.94},{"r":7,"m":29,"y":7.05},{"r":7,"m":29.5,"y":6.93},
{"r":7,"m":30,"y":7.06},{"r":7,"m":30.5,"y":6.92},{"r":7,"m":31,"y":7.05},{"r":7,"m":31.5,"y":6.94},{"r":7,"m":32,"y":7.07},{"r":7,"m":32.5,"y":6.95},{"r":7,"m":33,"y":7.06},{"r":7,"m":33.5,"y":6.92},{"r":7,"m":34,"y":7.06},{"r":7,"m":34.5,"y":6.95},
{"r":7,"m":35,"y":7.07},{"r":7,"m":35.5,"y":6.94},{"r":7,"m":36,"y":7.09},{"r":7,"m":36.5,"y":6.88},{"r":7,"m":37,"y":7.13},{"r":7,"m":37.5,"y":6.89},{"r":7,"m":38,"y":7.08},{"r":7,"m":38.5,"y":6.93},{"r":7,"m":39,"y":7.06},{"r":7,"m":39.5,"y":6.95},
{"r":7,"m":40,"y":7.08},{"r":7,"m":40.5,"y":6.94},{"r":7,"m":41,"y":7.07},{"r":7,"m":41.5,"y":6.95},{"r":7,"m":42,"y":7.06},{"r":7,"m":42.5,"y":6.91},{"r":7,"m":43,"y":7.12},{"r":7,"m":43.5,"y":6.87},{"r":7,"m":44,"y":7.11},{"r":7,"m":44.5,"y":6.92},
{"r":7,"m":45,"y":7.07},{"r":7,"m":45.5,"y":6.94},{"r":7,"m":46,"y":7.05},{"r":7,"m":46.5,"y":6.92},{"r":7,"m":47,"y":7.06},{"r":7,"m":47.5,"y":6.93},{"r":7,"m":48,"y":7.05},{"r":7,"m":48.5,"y":6.94},{"r":7,"m":49,"y":7.07},{"r":7,"m":49.5,"y":6.94},
{"r":7,"m":50,"y":7.05},{"r":7,"m":50.5,"y":6.92},{"r":7,"m":51,"y":7.06},{"r":7,"m":51.5,"y":6.93},{"r":7,"m":52,"y":7.05},{"r":7,"m":52.5,"y":6.94},{"r":7,"m":53,"y":7.08},{"r":7,"m":53.5,"y":6.95},{"r":7,"m":54,"y":7.06},{"r":7,"m":54.5,"y":6.93},
{"r":7,"m":55,"y":7.06},{"r":7,"m":55.5,"y":6.95},{"r":7,"m":56,"y":7.07},{"r":7,"m":56.5,"y":6.92},{"r":7,"m":57,"y":7.06},{"r":7,"m":57.5,"y":6.95},{"r":7,"m":58,"y":7.09},{"r":7,"m":58.5,"y":6.88},{"r":7,"m":59,"y":7.13},{"r":7,"m":59.5,"y":6.89},{"r":7,"m":60,"y":7.08},
{"r":8,"m":0,"y":8.06},{"r":8,"m":0.5,"y":7.93},{"r":8,"m":1,"y":8.05},{"r":8,"m":1.5,"y":7.92},{"r":8,"m":2,"y":8.06},{"r":8,"m":2.5,"y":7.93},{"r":8,"m":3,"y":8.05},{"r":8,"m":3.5,"y":7.94},{"r":8,"m":4,"y":8.08},{"r":8,"m":4.5,"y":7.94},
{"r":8,"m":5,"y":8.05},{"r":8,"m":5.5,"y":7.89},{"r":8,"m":6,"y":8.15},{"r":8,"m":6.5,"y":7.82},{"r":8,"m":7,"y":8.15},{"r":8,"m":7.5,"y":7.9},{"r":8,"m":8,"y":8.07},{"r":8,"m":8.5,"y":7.95},{"r":8,"m":9,"y":8.06},{"r":8,"m":9.5,"y":7.92},
{"r":8,"m":10,"y":8.06},{"r":8,"m":10.5,"y":7.95},{"r":8,"m":11,"y":8.07},{"r":8,"m":11.5,"y":7.94},{"r":8,"m":12,"y":8.09},{"r":8,"m":12.5,"y":7.88},{"r":8,"m":13,"y":8.13},{"r":8,"m":13.5,"y":7.89},{"r":8,"m":14,"y":8.08},{"r":8,"m":14.5,"y":7.93},
{"r":8,"m":15,"y":8.08},{"r":8,"m":15.5,"y":7.94},{"r":8,"m":16,"y":8.05},{"r":8,"m":16.5,"y":7.93},{"r":8,"m":17,"y":8.06},{"r":8,"m":17.5,"y":7.92},{"r":8,"m":18,"y":8.09},{"r":8,"m":18.5,"y":7.88},{"r":8,"m":19,"y":8.13},{"r":8,"m":19.5,"y":7.89},
{"r":8,"m":20,"y":8.08},{"r":8,"m":20.5,"y":7.94},{"r":8,"m":21,"y":8.08},{"r":8,"m":21.5,"y":7.95},{"r":8,"m":22,"y":8.06},{"r":8,"m":22.5,"y":7.93},{"r":8,"m":23,"y":8.06},{"r":8,"m":23.5,"y":7.95},{"r":8,"m":24,"y":8.09},{"r":8,"m":24.5,"y":7.88},
{"r":8,"m":25,"y":8.13},{"r":8,"m":25.5,"y":7.89},{"r":8,"m":26,"y":8.12},{"r":8,"m":26.5,"y":7.87},{"r":8,"m":27,"y":8.11},{"r":8,"m":27.5,"y":7.92},{"r":8,"m":28,"y":8.07},{"r":8,"m":28.5,"y":7.94},{"r":8,"m":29,"y":8.05},{"r":8,"m":29.5,"y":7.93},
{"r":8,"m":30,"y":8.06},{"r":8,"m":30.5,"y":7.92},{"r":8,"m":31,"y":8.05},{"r":8,"m":31.5,"y":7.94},{"r":8,"m":32,"y":8.07},{"r":8,"m":32.5,"y":7.95},{"r":8,"m":33,"y":8.06},{"r":8,"m":33.5,"y":7.92},{"r":8,"m":34,"y":8.09},{"r":8,"m":34.5,"y":7.88},
{"r":8,"m":35,"y":8.13},{"r":8,"m":35.5,"y":7.89},{"r":8,"m":36,"y":8.08},{"r":8,"m":36.5,"y":7.93},{"r":8,"m":37,"y":8.08},{"r":8,"m":37.5,"y":7.91},{"r":8,"m":38,"y":8.12},{"r":8,"m":38.5,"y":7.87},{"r":8,"m":39,"y":8.11},{"r":8,"m":39.5,"y":7.92},
{"r":8,"m":40,"y":8.08},{"r":8,"m":40.5,"y":7.94},{"r":8,"m":41,"y":8.07},{"r":8,"m":41.5,"y":7.95},{"r":8,"m":42,"y":8.06},{"r":8,"m":42.5,"y":7.93},{"r":8,"m":43,"y":8.05},{"r":8,"m":43.5,"y":7.92},{"r":8,"m":44,"y":8.06},{"r":8,"m":44.5,"y":7.95},
{"r":8,"m":45,"y":8.07},{"r":8,"m":45.5,"y":7.94},{"r":8,"m":46,"y":8.05},{"r":8,"m":46.5,"y":7.92},{"r":8,"m":47,"y":8.06},{"r":8,"m":47.5,"y":7.93},{"r":8,"m":48,"y":8.05},{"r":8,"m":48.5,"y":7.94},{"r":8,"m":49,"y":8.07},{"r":8,"m":49.5,"y":7.94},
{"r":8,"m":50,"y":8.05},{"r":8,"m":50.5,"y":7.92},{"r":8,"m":51,"y":8.06},{"r":8,"m":51.5,"y":7.93},{"r":8,"m":52,"y":8.05},{"r":8,"m":52.5,"y":7.94},{"r":8,"m":53,"y":8.08},{"r":8,"m":53.5,"y":7.95},{"r":8,"m":54,"y":8.09},{"r":8,"m":54.5,"y":7.88},
{"r":8,"m":55,"y":8.13},{"r":8,"m":55.5,"y":7.89},{"r":8,"m":56,"y":8.08},{"r":8,"m":56.5,"y":7.92},{"r":8,"m":57,"y":8.06},{"r":8,"m":57.5,"y":7.95},{"r":8,"m":58,"y":8.07},{"r":8,"m":58.5,"y":7.94},{"r":8,"m":59,"y":8.05},{"r":8,"m":59.5,"y":7.92},{"r":8,"m":60,"y":8.06},
{"r":9,"m":0,"y":9.06},{"r":9,"m":0.5,"y":8.93},{"r":9,"m":1,"y":9.05},{"r":9,"m":1.5,"y":8.92},{"r":9,"m":2,"y":9.09},{"r":9,"m":2.5,"y":8.88},{"r":9,"m":3,"y":9.13},{"r":9,"m":3.5,"y":8.89},{"r":9,"m":4,"y":9.08},{"r":9,"m":4.5,"y":8.94},
{"r":9,"m":5,"y":9.05},{"r":9,"m":5.5,"y":8.93},{"r":9,"m":6,"y":9.06},{"r":9,"m":6.5,"y":8.92},{"r":9,"m":7,"y":9.05},{"r":9,"m":7.5,"y":8.94},{"r":9,"m":8,"y":9.09},{"r":9,"m":8.5,"y":8.88},{"r":9,"m":9,"y":9.13},{"r":9,"m":9.5,"y":8.89},
{"r":9,"m":10,"y":9.08},{"r":9,"m":10.5,"y":8.95},{"r":9,"m":11,"y":9.07},{"r":9,"m":11.5,"y":8.94},{"r":9,"m":12,"y":9.08},{"r":9,"m":12.5,"y":8.95},{"r":9,"m":13,"y":9.07},{"r":9,"m":13.5,"y":8.94},{"r":9,"m":14,"y":9.05},{"r":9,"m":14.5,"y":8.93},
{"r":9,"m":15,"y":9.08},{"r":9,"m":15.5,"y":8.94},{"r":9,"m":16,"y":9.05},{"r":9,"m":16.5,"y":8.93},{"r":9,"m":17,"y":9.06},{"r":9,"m":17.5,"y":8.92},{"r":9,"m":18,"y":9.05},{"r":9,"m":18.5,"y":8.94},{"r":9,"m":19,"y":9.07},{"r":9,"m":19.5,"y":8.95},
{"r":9,"m":20,"y":9.07},{"r":9,"m":20.5,"y":8.94},{"r":9,"m":21,"y":9.08},{"r":9,"m":21.5,"y":8.95},{"r":9,"m":22,"y":9.06},{"r":9,"m":22.5,"y":8.93},{"r":9,"m":23,"y":9.09},{"r":9,"m":23.5,"y":8.88},{"r":9,"m":24,"y":9.13},{"r":9,"m":24.5,"y":8.89},
{"r":9,"m":25,"y":9.08},{"r":9,"m":25.5,"y":8.93},{"r":9,"m":26,"y":9.06},{"r":9,"m":26.5,"y":8.92},{"r":9,"m":27,"y":9.06},{"r":9,"m":27.5,"y":8.95},{"r":9,"m":28,"y":9.07},{"r":9,"m":28.5,"y":8.94},{"r":9,"m":29,"y":9.05},{"r":9,"m":29.5,"y":8.93},
{"r":9,"m":30,"y":9.06},{"r":9,"m":30.5,"y":8.92},{"r":9,"m":31,"y":9.05},{"r":9,"m":31.5,"y":8.94},{"r":9,"m":32,"y":9.07},{"r":9,"m":32.5,"y":8.95},{"r":9,"m":33,"y":9.06},{"r":9,"m":33.5,"y":8.92},{"r":9,"m":34,"y":9.11},{"r":9,"m":34.5,"y":8.85},
{"r":9,"m":35,"y":9.18},{"r":9,"m":35.5,"y":8.85},{"r":9,"m":36,"y":9.1},{"r":9,"m":36.5,"y":8.93},{"r":9,"m":37,"y":9.08},{"r":9,"m":37.5,"y":8.94},{"r":9,"m":38,"y":9.05},{"r":9,"m":38.5,"y":8.93},{"r":9,"m":39,"y":9.06},{"r":9,"m":39.5,"y":8.95},
{"r":9,"m":40,"y":9.08},{"r":9,"m":40.5,"y":8.94},{"r":9,"m":41,"y":9.07},{"r":9,"m":41.5,"y":8.95},{"r":9,"m":42,"y":9.06},{"r":9,"m":42.5,"y":8.93},{"r":9,"m":43,"y":9.05},{"r":9,"m":43.5,"y":8.92},{"r":9,"m":44,"y":9.06},{"r":9,"m":44.5,"y":8.95},
{"r":9,"m":45,"y":9.07},{"r":9,"m":45.5,"y":8.94},{"r":9,"m":46,"y":9.05},{"r":9,"m":46.5,"y":8.92},{"r":9,"m":47,"y":9.06},{"r":9,"m":47.5,"y":8.93},{"r":9,"m":48,"y":9.05},{"r":9,"m":48.5,"y":8.91},{"r":9,"m":49,"y":9.12},{"r":9,"m":49.5,"y":8.87},
{"r":9,"m":50,"y":9.11},{"r":9,"m":50.5,"y":8.92},{"r":9,"m":51,"y":9.06},{"r":9,"m":51.5,"y":8.93},{"r":9,"m":52,"y":9.05},{"r":9,"m":52.5,"y":8.94},{"r":9,"m":53,"y":9.08},{"r":9,"m":53.5,"y":8.95},{"r":9,"m":54,"y":9.06},{"r":9,"m":54.5,"y":8.93},
{"r":9,"m":55,"y":9.06},{"r":9,"m":55.5,"y":8.91},{"r":9,"m":56,"y":9.12},{"r":9,"m":56.5,"y":8.87},{"r":9,"m":57,"y":9.11},{"r":9,"m":57.5,"y":8.92},{"r":9,"m":58,"y":9.07},{"r":9,"m":58.5,"y":8.94},{"r":9,"m":59,"y":9.05},{"r":9,"m":59.5,"y":8.92},{"r":9,"m":60,"y":9.06},
{"r":10,"m":0,"y":10.06},{"r":10,"m":0.5,"y":9.93},{"r":10,"m":1,"y":10.05},{"r":10,"m":1.5,"y":9.92},{"r":10,"m":2,"y":10.06},{"r":10,"m":2.5,"y":9.93},{"r":10,"m":3,"y":10.09},{"r":10,"m":3.5,"y":9.88},{"r":10,"m":4,"y":10.13},{"r":10,"m":4.5,"y":9.89},
{"r":10,"m":5,"y":10.08},{"r":10,"m":5.5,"y":9.91},{"r":10,"m":6,"y":10.12},{"r":10,"m":6.5,"y":9.87},{"r":10,"m":7,"y":10.11},{"r":10,"m":7.5,"y":9.92},{"r":10,"m":8,"y":10.07},{"r":10,"m":8.5,"y":9.95},{"r":10,"m":9,"y":10.06},{"r":10,"m":9.5,"y":9.92},
{"r":10,"m":10,"y":10.06},{"r":10,"m":10.5,"y":9.95},{"r":10,"m":11,"y":10.09},{"r":10,"m":11.5,"y":9.88},{"r":10,"m":12,"y":10.13},{"r":10,"m":12.5,"y":9.89},{"r":10,"m":13,"y":10.08},{"r":10,"m":13.5,"y":9.94},{"r":10,"m":14,"y":10.05},{"r":10,"m":14.5,"y":9.93},
{"r":10,"m":15,"y":10.08},{"r":10,"m":15.5,"y":9.94},{"r":10,"m":16,"y":10.05},{"r":10,"m":16.5,"y":9.91},{"r":10,"m":17,"y":10.12},{"r":10,"m":17.5,"y":9.87},{"r":10,"m":18,"y":10.11},{"r":10,"m":18.5,"y":9.91},{"r":10,"m":19,"y":10.12},{"r":10,"m":19.5,"y":9.87},
{"r":10,"m":20,"y":10.11},{"r":10,"m":20.5,"y":9.92},{"r":10,"m":21,"y":10.08},{"r":10,"m":21.5,"y":9.95},{"r":10,"m":22,"y":10.06},{"r":10,"m":22.5,"y":9.93},{"r":10,"m":23,"y":10.06},{"r":10,"m":23.5,"y":9.95},{"r":10,"m":24,"y":10.08},{"r":10,"m":24.5,"y":9.94},
{"r":10,"m":25,"y":10.05},{"r":10,"m":25.5,"y":9.93},{"r":10,"m":26,"y":10.06},{"r":10,"m":26.5,"y":9.92},{"r":10,"m":27,"y":10.06},{"r":10,"m":27.5,"y":9.95},{"r":10,"m":28,"y":10.07},{"r":10,"m":28.5,"y":9.94},{"r":10,"m":29,"y":10.05},{"r":10,"m":29.5,"y":9.89},
{"r":10,"m":30,"y":10.15},{"r":10,"m":30.5,"y":9.82},{"r":10,"m":31,"y":10.15},{"r":10,"m":31.5,"y":9.9},{"r":10,"m":32,"y":10.07},{"r":10,"m":32.5,"y":9.95},{"r":10,"m":33,"y":10.06},{"r":10,"m":33.5,"y":9.92},{"r":10,"m":34,"y":10.06},{"r":10,"m":34.5,"y":9.95},
{"r":10,"m":35,"y":10.07},{"r":10,"m":35.5,"y":9.94},{"r":10,"m":36,"y":10.09},{"r":10,"m":36.5,"y":9.88},{"r":10,"m":37,"y":10.13},{"r":10,"m":37.5,"y":9.89},{"r":10,"m":38,"y":10.08},{"r":10,"m":38.5,"y":9.93},{"r":10,"m":39,"y":10.06},{"r":10,"m":39.5,"y":9.95},
{"r":10,"m":40,"y":10.08},{"r":10,"m":40.5,"y":9.94},{"r":10,"m":41,"y":10.07},{"r":10,"m":41.5,"y":9.95},{"r":10,"m":42,"y":10.06},{"r":10,"m":42.5,"y":9.93},{"r":10,"m":43,"y":10.05},{"r":10,"m":43.5,"y":9.92},{"r":10,"m":44,"y":10.06},{"r":10,"m":44.5,"y":9.95},
{"r":10,"m":45,"y":10.07},{"r":10,"m":45.5,"y":9.89},{"r":10,"m":46,"y":10.15},{"r":10,"m":46.5,"y":9.82},{"r":10,"m":47,"y":10.15},{"r":10,"m":47.5,"y":9.9},{"r":10,"m":48,"y":10.05},{"r":10,"m":48.5,"y":9.94},{"r":10,"m":49,"y":10.07},{"r":10,"m":49.5,"y":9.94},
{"r":10,"m":50,"y":10.05},{"r":10,"m":50.5,"y":9.92},{"r":10,"m":51,"y":10.06},{"r":10,"m":51.5,"y":9.93},{"r":10,"m":52,"y":10.05},{"r":10,"m":52.5,"y":9.94},{"r":10,"m":53,"y":10.08},{"r":10,"m":53.5,"y":9.95},{"r":10,"m":54,"y":10.06},{"r":10,"m":54.5,"y":9.93},
{"r":10,"m":55,"y":10.06},{"r":10,"m":55.5,"y":9.95},{"r":10,"m":56,"y":10.07},{"r":10,"m":56.5,"y":9.92},{"r":10,"m":57,"y":10.06},{"r":10,"m":57.5,"y":9.91},{"r":10,"m":58,"y":10.12},{"r":10,"m":58.5,"y":9.87},{"r":10,"m":59,"y":10.11},{"r":10,"m":59.5,"y":9.92},{"r":10,"m":60,"y":10.06},
{"r":11,"m":0,"y":11.06},{"r":11,"m":0.5,"y":10.93},{"r":11,"m":1,"y":11.05},{"r":11,"m":1.5,"y":10.92},{"r":11,"m":2,"y":11.06},{"r":11,"m":2.5,"y":10.93},{"r":11,"m":3,"y":11.05},{"r":11,"m":3.5,"y":10.94},{"r":11,"m":4,"y":11.08},{"r":11,"m":4.5,"y":10.94},
{"r":11,"m":5,"y":11.05},{"r":11,"m":5.5,"y":10.93},{"r":11,"m":6,"y":11.06},{"r":11,"m":6.5,"y":10.92},{"r":11,"m":7,"y":11.05},{"r":11,"m":7.5,"y":10.94},{"r":11,"m":8,"y":11.07},{"r":11,"m":8.5,"y":10.95},{"r":11,"m":9,"y":11.06},{"r":11,"m":9.5,"y":10.92},
{"r":11,"m":10,"y":11.06},{"r":11,"m":10.5,"y":10.95},{"r":11,"m":11,"y":11.07},{"r":11,"m":11.5,"y":10.94},{"r":11,"m":12,"y":11.08},{"r":11,"m":12.5,"y":10.91},{"r":11,"m":13,"y":11.12},{"r":11,"m":13.5,"y":10.87},{"r":11,"m":14,"y":11.11},{"r":11,"m":14.5,"y":10.91},
{"r":11,"m":15,"y":11.12},{"r":11,"m":15.5,"y":10.87},{"r":11,"m":16,"y":11.11},{"r":11,"m":16.5,"y":10.92},{"r":11,"m":17,"y":11.06},{"r":11,"m":17.5,"y":10.92},{"r":11,"m":18,"y":11.09},{"r":11,"m":18.5,"y":10.88},{"r":11,"m":19,"y":11.13},{"r":11,"m":19.5,"y":10.89},
{"r":11,"m":20,"y":11.08},{"r":11,"m":20.5,"y":10.94},{"r":11,"m":21,"y":11.08},{"r":11,"m":21.5,"y":10.95},{"r":11,"m":22,"y":11.06},{"r":11,"m":22.5,"y":10.93},{"r":11,"m":23,"y":11.06},{"r":11,"m":23.5,"y":10.95},{"r":11,"m":24,"y":11.08},{"r":11,"m":24.5,"y":10.94},
{"r":11,"m":25,"y":11.05},{"r":11,"m":25.5,"y":10.93},{"r":11,"m":26,"y":11.06},{"r":11,"m":26.5,"y":10.92},{"r":11,"m":27,"y":11.06},{"r":11,"m":27.5,"y":10.95},{"r":11,"m":28,"y":11.07},{"r":11,"m":28.5,"y":10.94},{"r":11,"m":29,"y":11.05},{"r":11,"m":29.5,"y":10.93},
{"r":11,"m":30,"y":11.06},{"r":11,"m":30.5,"y":10.92},{"r":11,"m":31,"y":11.05},{"r":11,"m":31.5,"y":10.94},{"r":11,"m":32,"y":11.07},{"r":11,"m":32.5,"y":10.95},{"r":11,"m":33,"y":11.09},{"r":11,"m":33.5,"y":10.88},{"r":11,"m":34,"y":11.13},{"r":11,"m":34.5,"y":10.89},
{"r":11,"m":35,"y":11.08},{"r":11,"m":35.5,"y":10.94},{"r":11,"m":36,"y":11.05},{"r":11,"m":36.5,"y":10.93},{"r":11,"m":37,"y":11.08},{"r":11,"m":37.5,"y":10.94},{"r":11,"m":38,"y":11.05},{"r":11,"m":38.5,"y":10.93},{"r":11,"m":39,"y":11.06},{"r":11,"m":39.5,"y":10.95},
{"r":11,"m":40,"y":11.08},{"r":11,"m":40.5,"y":10.94},{"r":11,"m":41,"y":11.07},{"r":11,"m":41.5,"y":10.95},{"r":11,"m":42,"y":11.06},{"r":11,"m":42.5,"y":10.93},{"r":11,"m":43,"y":11.05},{"r":11,"m":43.5,"y":10.92},{"r":11,"m":44,"y":11.06},{"r":11,"m":44.5,"y":10.91},
{"r":11,"m":45,"y":11.12},{"r":11,"m":45.5,"y":10.87},{"r":11,"m":46,"y":11.11},{"r":11,"m":46.5,"y":10.92},{"r":11,"m":47,"y":11.05},{"r":11,"m":47.5,"y":10.92},{"r":11,"m":48,"y":11.06},{"r":11,"m":48.5,"y":10.93},{"r":11,"m":49,"y":11.09},{"r":11,"m":49.5,"y":10.88},
{"r":11,"m":50,"y":11.13},{"r":11,"m":50.5,"y":10.89},{"r":11,"m":51,"y":11.08},{"r":11,"m":51.5,"y":10.93},{"r":11,"m":52,"y":11.09},{"r":11,"m":52.5,"y":10.88},{"r":11,"m":53,"y":11.13},{"r":11,"m":53.5,"y":10.89},{"r":11,"m":54,"y":11.08},{"r":11,"m":54.5,"y":10.93},
{"r":11,"m":55,"y":11.06},{"r":11,"m":55.5,"y":10.95},{"r":11,"m":56,"y":11.07},{"r":11,"m":56.5,"y":10.92},{"r":11,"m":57,"y":11.06},{"r":11,"m":57.5,"y":10.95},{"r":11,"m":58,"y":11.07},{"r":11,"m":58.5,"y":10.94},{"r":11,"m":59,"y":11.05},{"r":11,"m":59.5,"y":10.92},{"r":11,"m":60,"y":11.06},
{"r":12,"m":0,"y":12.09},{"r":12,"m":0.5,"y":11.88},{"r":12,"m":1,"y":12.13},{"r":12,"m":1.5,"y":11.89},{"r":12,"m":2,"y":12.08},{"r":12,"m":2.5,"y":11.93},{"r":12,"m":3,"y":12.05},{"r":12,"m":3.5,"y":11.94},{"r":12,"m":4,"y":12.08},{"r":12,"m":4.5,"y":11.94},
{"r":12,"m":5,"y":12.09},{"r":12,"m":5.5,"y":11.88},{"r":12,"m":6,"y":12.13},{"r":12,"m":6.5,"y":11.89},{"r":12,"m":7,"y":12.08},{"r":12,"m":7.5,"y":11.94},{"r":12,"m":8,"y":12.07},{"r":12,"m":8.5,"y":11.95},{"r":12,"m":9,"y":12.06},{"r":12,"m":9.5,"y":11.92},
{"r":12,"m":10,"y":12.06},{"r":12,"m":10.5,"y":11.95},{"r":12,"m":11,"y":12.07},{"r":12,"m":11.5,"y":11.91},{"r":12,"m":12,"y":12.12},{"r":12,"m":12.5,"y":11.87},{"r":12,"m":13,"y":12.11},{"r":12,"m":13.5,"y":11.92},{"r":12,"m":14,"y":12.05},{"r":12,"m":14.5,"y":11.93},
{"r":12,"m":15,"y":12.08},{"r":12,"m":15.5,"y":11.91},{"r":12,"m":16,"y":12.12},{"r":12,"m":16.5,"y":11.87},{"r":12,"m":17,"y":12.11},{"r":12,"m":17.5,"y":11.92},{"r":12,"m":18,"y":12.05},{"r":12,"m":18.5,"y":11.94},{"r":12,"m":19,"y":12.07},{"r":12,"m":19.5,"y":11.95},
{"r":12,"m":20,"y":12.07},{"r":12,"m":20.5,"y":11.94},{"r":12,"m":21,"y":12.08},{"r":12,"m":21.5,"y":11.95},{"r":12,"m":22,"y":12.06},{"r":12,"m":22.5,"y":11.93},{"r":12,"m":23,"y":12.06},{"r":12,"m":23.5,"y":11.95},{"r":12,"m":24,"y":12.08},{"r":12,"m":24.5,"y":11.94},
{"r":12,"m":25,"y":12.05},{"r":12,"m":25.5,"y":11.93},{"r":12,"m":26,"y":12.06},{"r":12,"m":26.5,"y":11.92},{"r":12,"m":27,"y":12.06},{"r":12,"m":27.5,"y":11.95},{"r":12,"m":28,"y":12.07},{"r":12,"m":28.5,"y":11.94},{"r":12,"m":29,"y":12.09},{"r":12,"m":29.5,"y":11.88},
{"r":12,"m":30,"y":12.13},{"r":12,"m":30.5,"y":11.89},{"r":12,"m":31,"y":12.08},{"r":12,"m":31.5,"y":11.94},{"r":12,"m":32,"y":12.07},{"r":12,"m":32.5,"y":11.95},{"r":12,"m":33,"y":12.06},{"r":12,"m":33.5,"y":11.92},{"r":12,"m":34,"y":12.06},{"r":12,"m":34.5,"y":11.95},
{"r":12,"m":35,"y":12.07},{"r":12,"m":35.5,"y":11.94},{"r":12,"m":36,"y":12.09},{"r":12,"m":36.5,"y":11.88},{"r":12,"m":37,"y":12.13},{"r":12,"m":37.5,"y":11.89},{"r":12,"m":38,"y":12.08},{"r":12,"m":38.5,"y":11.93},{"r":12,"m":39,"y":12.06},{"r":12,"m":39.5,"y":11.95},
{"r":12,"m":40,"y":12.08},{"r":12,"m":40.5,"y":11.94},{"r":12,"m":41,"y":12.07},{"r":12,"m":41.5,"y":11.95},{"r":12,"m":42,"y":12.06},{"r":12,"m":42.5,"y":11.93},{"r":12,"m":43,"y":12.05},{"r":12,"m":43.5,"y":11.92},{"r":12,"m":44,"y":12.06},{"r":12,"m":44.5,"y":11.95},
{"r":12,"m":45,"y":12.07},{"r":12,"m":45.5,"y":11.94},{"r":12,"m":46,"y":12.05},{"r":12,"m":46.5,"y":11.92},{"r":12,"m":47,"y":12.06},{"r":12,"m":47.5,"y":11.93},{"r":12,"m":48,"y":12.05},{"r":12,"m":48.5,"y":11.94},{"r":12,"m":49,"y":12.07},{"r":12,"m":49.5,"y":11.94},
{"r":12,"m":50,"y":12.05},{"r":12,"m":50.5,"y":11.89},{"r":12,"m":51,"y":12.15},{"r":12,"m":51.5,"y":11.82},{"r":12,"m":52,"y":12.15},{"r":12,"m":52.5,"y":11.9},{"r":12,"m":53,"y":12.08},{"r":12,"m":53.5,"y":11.95},{"r":12,"m":54,"y":12.06},{"r":12,"m":54.5,"y":11.93},
{"r":12,"m":55,"y":12.06},{"r":12,"m":55.5,"y":11.95},{"r":12,"m":56,"y":12.07},{"r":12,"m":56.5,"y":11.89},{"r":12,"m":57,"y":12.15},{"r":12,"m":57.5,"y":11.82},{"r":12,"m":58,"y":12.15},{"r":12,"m":58.5,"y":11.9},{"r":12,"m":59,"y":12.05},{"r":12,"m":59.5,"y":11.92},{"r":12,"m":60,"y":12.06},
{"r":13,"m":0,"y":13.06},{"r":13,"m":0.5,"y":12.93},{"r":13,"m":1,"y":13.05},{"r":13,"m":1.5,"y":12.92},{"r":13,"m":2,"y":13.06},{"r":13,"m":2.5,"y":12.93},{"r":13,"m":3,"y":13.05},{"r":13,"m":3.5,"y":12.94},{"r":13,"m":4,"y":13.08},{"r":13,"m":4.5,"y":12.94},
{"r":13,"m":5,"y":13.09},{"r":13,"m":5.5,"y":12.88},{"r":13,"m":6,"y":13.13},{"r":13,"m":6.5,"y":12.89},{"r":13,"m":7,"y":13.08},{"r":13,"m":7.5,"y":12.94},{"r":13,"m":8,"y":13.07},{"r":13,"m":8.5,"y":12.95},{"r":13,"m":9,"y":13.06},{"r":13,"m":9.5,"y":12.92},
{"r":13,"m":10,"y":13.06},{"r":13,"m":10.5,"y":12.95},{"r":13,"m":11,"y":13.07},{"r":13,"m":11.5,"y":12.94},{"r":13,"m":12,"y":13.08},{"r":13,"m":12.5,"y":12.95},{"r":13,"m":13,"y":13.09},{"r":13,"m":13.5,"y":12.88},{"r":13,"m":14,"y":13.13},{"r":13,"m":14.5,"y":12.89},
{"r":13,"m":15,"y":13.08},{"r":13,"m":15.5,"y":12.94},{"r":13,"m":16,"y":13.09},{"r":13,"m":16.5,"y":12.88},{"r":13,"m":17,"y":13.13},{"r":13,"m":17.5,"y":12.89},{"r":13,"m":18,"y":13.08},{"r":13,"m":18.5,"y":12.94},{"r":13,"m":19,"y":13.07},{"r":13,"m":19.5,"y":12.95},
{"r":13,"m":20,"y":13.07},{"r":13,"m":20.5,"y":12.94},{"r":13,"m":21,"y":13.08},{"r":13,"m":21.5,"y":12.95},{"r":13,"m":22,"y":13.06},{"r":13,"m":22.5,"y":12.93},{"r":13,"m":23,"y":13.09},{"r":13,"m":23.5,"y":12.88},{"r":13,"m":24,"y":13.13},{"r":13,"m":24.5,"y":12.89},
{"r":13,"m":25,"y":13.08},{"r":13,"m":25.5,"y":12.93},{"r":13,"m":26,"y":13.06},{"r":13,"m":26.5,"y":12.92},{"r":13,"m":27,"y":13.06},{"r":13,"m":27.5,"y":12.95},{"r":13,"m":28,"y":13.07},{"r":13,"m":28.5,"y":12.94},{"r":13,"m":29,"y":13.05},{"r":13,"m":29.5,"y":12.93},
{"r":13,"m":30,"y":13.06},{"r":13,"m":30.5,"y":12.92},{"r":13,"m":31,"y":13.05},{"r":13,"m":31.5,"y":12.94},{"r":13,"m":32,"y":13.07},{"r":13,"m":32.5,"y":12.95},{"r":13,"m":33,"y":13.06},{"r":13,"m":33.5,"y":12.92},{"r":13,"m":34,"y":13.09},{"r":13,"m":34.5,"y":12.88},
{"r":13,"m":35,"y":13.13},{"r":13,"m":35.5,"y":12.89},{"r":13,"m":36,"y":13.08},{"r":13,"m":36.5,"y":12.93},{"r":13,"m":37,"y":13.08},{"r":13,"m":37.5,"y":12.91},{"r":13,"m":38,"y":13.12},{"r":13,"m":38.5,"y":12.87},{"r":13,"m":39,"y":13.11},{"r":13,"m":39.5,"y":12.92},
{"r":13,"m":40,"y":13.08},{"r":13,"m":40.5,"y":12.94},{"r":13,"m":41,"y":13.07},{"r":13,"m":41.5,"y":12.95},{"r":13,"m":42,"y":13.06},{"r":13,"m":42.5,"y":12.93},{"r":13,"m":43,"y":13.05},{"r":13,"m":43.5,"y":12.92},{"r":13,"m":44,"y":13.06},{"r":13,"m":44.5,"y":12.95},
{"r":13,"m":45,"y":13.09},{"r":13,"m":45.5,"y":12.88},{"r":13,"m":46,"y":13.13},{"r":13,"m":46.5,"y":12.89},{"r":13,"m":47,"y":13.08},{"r":13,"m":47.5,"y":12.93},{"r":13,"m":48,"y":13.05},{"r":13,"m":48.5,"y":12.94},{"r":13,"m":49,"y":13.07},{"r":13,"m":49.5,"y":12.94},
{"r":13,"m":50,"y":13.05},{"r":13,"m":50.5,"y":12.92},{"r":13,"m":51,"y":13.06},{"r":13,"m":51.5,"y":12.93},{"r":13,"m":52,"y":13.05},{"r":13,"m":52.5,"y":12.94},{"r":13,"m":53,"y":13.08},{"r":13,"m":53.5,"y":12.95},{"r":13,"m":54,"y":13.06},{"r":13,"m":54.5,"y":12.93},
{"r":13,"m":55,"y":13.06},{"r":13,"m":55.5,"y":12.95},{"r":13,"m":56,"y":13.07},{"r":13,"m":56.5,"y":12.92},{"r":13,"m":57,"y":13.09},{"r":13,"m":57.5,"y":12.88},{"r":13,"m":58,"y":13.13},{"r":13,"m":58.5,"y":12.89},{"r":13,"m":59,"y":13.08},{"r":13,"m":59.5,"y":12.92},{"r":13,"m":60,"y":13.06},
{"r":14,"m":0,"y":14.06},{"r":14,"m":0.5,"y":13.93},{"r":14,"m":1,"y":14.05},{"r":14,"m":1.5,"y":13.92},{"r":14,"m":2,"y":14.06},{"r":14,"m":2.5,"y":13.93},{"r":14,"m":3,"y":14.05},{"r":14,"m":3.5,"y":13.89},{"r":14,"m":4,"y":14.15},{"r":14,"m":4.5,"y":13.82},
{"r":14,"m":5,"y":14.15},{"r":14,"m":5.5,"y":13.9},{"r":14,"m":6,"y":14.06},{"r":14,"m":6.5,"y":13.91},{"r":14,"m":7,"y":14.12},{"r":14,"m":7.5,"y":13.87},{"r":14,"m":8,"y":14.11},{"r":14,"m":8.5,"y":13.92},{"r":14,"m":9,"y":14.06},{"r":14,"m":9.5,"y":13.92},
{"r":14,"m":10,"y":14.06},{"r":14,"m":10.5,"y":13.95},{"r":14,"m":11,"y":14.07},{"r":14,"m":11.5,"y":13.94},{"r":14,"m":12,"y":14.08},{"r":14,"m":12.5,"y":13.95},{"r":14,"m":13,"y":14.07},{"r":14,"m":13.5,"y":13.94},{"r":14,"m":14,"y":14.05},{"r":14,"m":14.5,"y":13.93},
{"r":14,"m":15,"y":14.08},{"r":14,"m":15.5,"y":13.94},{"r":14,"m":16,"y":14.05},{"r":14,"m":16.5,"y":13.93},{"r":14,"m":17,"y":14.06},{"r":14,"m":17.5,"y":13.92},{"r":14,"m":18,"y":14.05},{"r":14,"m":18.5,"y":13.94},{"r":14,"m":19,"y":14.07},{"r":14,"m":19.5,"y":13.95},
{"r":14,"m":20,"y":14.07},{"r":14,"m":20.5,"y":13.94},{"r":14,"m":21,"y":14.09},{"r":14,"m":21.5,"y":13.88},{"r":14,"m":22,"y":14.13},{"r":14,"m":22.5,"y":13.89},{"r":14,"m":23,"y":14.08},{"r":14,"m":23.5,"y":13.95},{"r":14,"m":24,"y":14.08},{"r":14,"m":24.5,"y":13.94},
{"r":14,"m":25,"y":14.05},{"r":14,"m":25.5,"y":13.93},{"r":14,"m":26,"y":14.06},{"r":14,"m":26.5,"y":13.92},{"r":14,"m":27,"y":14.06},{"r":14,"m":27.5,"y":13.95},{"r":14,"m":28,"y":14.07},{"r":14,"m":28.5,"y":13.94},{"r":14,"m":29,"y":14.11},{"r":14,"m":29.5,"y":13.85},
{"r":14,"m":30,"y":14.18},{"r":14,"m":30.5,"y":13.85},{"r":14,"m":31,"y":14.1},{"r":14,"m":31.5,"y":13.94},{"r":14,"m":32,"y":14.07},{"r":14,"m":32.5,"y":13.95},{"r":14,"m":33,"y":14.06},{"r":14,"m":33.5,"y":13.92},{"r":14,"m":34,"y":14.06},{"r":14,"m":34.5,"y":13.95},
{"r":14,"m":35,"y":14.07},{"r":14,"m":35.5,"y":13.94},{"r":14,"m":36,"y":14.05},{"r":14,"m":36.5,"y":13.93},{"r":14,"m":37,"y":14.08},{"r":14,"m":37.5,"y":13.91},{"r":14,"m":38,"y":14.12},{"r":14,"m":38.5,"y":13.87},{"r":14,"m":39,"y":14.11},{"r":14,"m":39.5,"y":13.92},
{"r":14,"m":40,"y":14.08},{"r":14,"m":40.5,"y":13.94},{"r":14,"m":41,"y":14.07},{"r":14,"m":41.5,"y":13.95},{"r":14,"m":42,"y":14.06},{"r":14,"m":42.5,"y":13.93},{"r":14,"m":43,"y":14.05},{"r":14,"m":43.5,"y":13.92},{"r":14,"m":44,"y":14.06},{"r":14,"m":44.5,"y":13.95},
{"r":14,"m":45,"y":14.07},{"r":14,"m":45.5,"y":13.94},{"r":14,"m":46,"y":14.05},{"r":14,"m":46.5,"y":13.92},{"r":14,"m":47,"y":14.06},{"r":14,"m":47.5,"y":13.93},{"r":14,"m":48,"y":14.05},{"r":14,"m":48.5,"y":13.94},{"r":14,"m":49,"y":14.07},{"r":14,"m":49.5,"y":13.94},
{"r":14,"m":50,"y":14.09},{"r":14,"m":50.5,"y":13.88},{"r":14,"m":51,"y":14.13},{"r":14,"m":51.5,"y":13.89},{"r":14,"m":52,"y":14.08},{"r":14,"m":52.5,"y":13.94},{"r":14,"m":53,"y":14.08},{"r":14,"m":53.5,"y":13.95},{"r":14,"m":54,"y":14.06},{"r":14,"m":54.5,"y":13.93},
{"r":14,"m":55,"y":14.06},{"r":14,"m":55.5,"y":13.95},{"r":14,"m":56,"y":14.07},{"r":14,"m":56.5,"y":13.92},{"r":14,"m":57,"y":14.06},{"r":14,"m":57.5,"y":13.95},{"r":14,"m":58,"y":14.07},{"r":14,"m":58.5,"y":13.94},{"r":14,"m":59,"y":14.05},{"r":14,"m":59.5,"y":13.92},{"r":14,"m":60,"y":14.06},
{"r":15,"m":0,"y":15.06},{"r":15,"m":0.5,"y":14.93},{"r":15,"m":1,"y":15.05},{"r":15,"m":1.5,"y":14.92},{"r":15,"m":2,"y":15.06},{"r":15,"m":2.5,"y":14.93},{"r":15,"m":3,"y":15.05},{"r":15,"m":3.5,"y":14.94},{"r":15,"m":4,"y":15.08},{"r":15,"m":4.5,"y":14.94},
{"r":15,"m":5,"y":15.05},{"r":15,"m":5.5,"y":14.93},{"r":15,"m":6,"y":15.09},{"r":15,"m":6.5,"y":14.88},{"r":15,"m":7,"y":15.13},{"r":15,"m":7.5,"y":14.89},{"r":15,"m":8,"y":15.08},{"r":15,"m":8.5,"y":14.95},{"r":15,"m":9,"y":15.06},{"r":15,"m":9.5,"y":14.92},
{"r":15,"m":10,"y":15.06},{"r":15,"m":10.5,"y":14.95},{"r":15,"m":11,"y":15.09},{"r":15,"m":11.5,"y":14.88},{"r":15,"m":12,"y":15.13},{"r":15,"m":12.5,"y":14.89},{"r":15,"m":13,"y":15.08},{"r":15,"m":13.5,"y":14.94},{"r":15,"m":14,"y":15.05},{"r":15,"m":14.5,"y":14.93},
{"r":15,"m":15,"y":15.08},{"r":15,"m":15.5,"y":14.94},{"r":15,"m":16,"y":15.05},{"r":15,"m":16.5,"y":14.93},{"r":15,"m":17,"y":15.06},{"r":15,"m":17.5,"y":14.92},{"r":15,"m":18,"y":15.05},{"r":15,"m":18.5,"y":14.94},{"r":15,"m":19,"y":15.09},{"r":15,"m":19.5,"y":14.88},
{"r":15,"m":20,"y":15.13},{"r":15,"m":20.5,"y":14.89},{"r":15,"m":21,"y":15.08},{"r":15,"m":21.5,"y":14.95},{"r":15,"m":22,"y":15.06},{"r":15,"m":22.5,"y":14.93},{"r":15,"m":23,"y":15.06},{"r":15,"m":23.5,"y":14.95},{"r":15,"m":24,"y":15.08},{"r":15,"m":24.5,"y":14.94},
{"r":15,"m":25,"y":15.05},{"r":15,"m":25.5,"y":14.93},{"r":15,"m":26,"y":15.06},{"r":15,"m":26.5,"y":14.92},{"r":15,"m":27,"y":15.06},{"r":15,"m":27.5,"y":14.91},{"r":15,"m":28,"y":15.12},{"r":15,"m":28.5,"y":14.87},{"r":15,"m":29,"y":15.11},{"r":15,"m":29.5,"y":14.92},
{"r":15,"m":30,"y":15.06},{"r":15,"m":30.5,"y":14.92},{"r":15,"m":31,"y":15.05},{"r":15,"m":31.5,"y":14.94},{"r":15,"m":32,"y":15.07},{"r":15,"m":32.5,"y":14.95},{"r":15,"m":33,"y":15.06},{"r":15,"m":33.5,"y":14.92},{"r":15,"m":34,"y":15.06},{"r":15,"m":34.5,"y":14.95},
{"r":15,"m":35,"y":15.07},{"r":15,"m":35.5,"y":14.94},{"r":15,"m":36,"y":15.05},{"r":15,"m":36.5,"y":14.93},{"r":15,"m":37,"y":15.08},{"r":15,"m":37.5,"y":14.91},{"r":15,"m":38,"y":15.12},{"r":15,"m":38.5,"y":14.87},{"r":15,"m":39,"y":15.11},{"r":15,"m":39.5,"y":14.92},
{"r":15,"m":40,"y":15.08},{"r":15,"m":40.5,"y":14.94},{"r":15,"m":41,"y":15.07},{"r":15,"m":41.5,"y":14.95},{"r":15,"m":42,"y":15.06},{"r":15,"m":42.5,"y":14.93},{"r":15,"m":43,"y":15.05},{"r":15,"m":43.5,"y":14.91},{"r":15,"m":44,"y":15.12},{"r":15,"m":44.5,"y":14.87},
{"r":15,"m":45,"y":15.11},{"r":15,"m":45.5,"y":14.92},{"r":15,"m":46,"y":15.05},{"r":15,"m":46.5,"y":14.92},{"r":15,"m":47,"y":15.06},{"r":15,"m":47.5,"y":14.93},{"r":15,"m":48,"y":15.05},{"r":15,"m":48.5,"y":14.94},{"r":15,"m":49,"y":15.07},{"r":15,"m":49.5,"y":14.94},
{"r":15,"m":50,"y":15.05},{"r":15,"m":50.5,"y":14.92},{"r":15,"m":51,"y":15.06},{"r":15,"m":51.5,"y":14.93},{"r":15,"m":52,"y":15.05},{"r":15,"m":52.5,"y":14.94},{"r":15,"m":53,"y":15.09},{"r":15,"m":53.5,"y":14.88},{"r":15,"m":54,"y":15.13},{"r":15,"m":54.5,"y":14.89},
{"r":15,"m":55,"y":15.08},{"r":15,"m":55.5,"y":14.95},{"r":15,"m":56,"y":15.07},{"r":15,"m":56.5,"y":14.92},{"r":15,"m":57,"y":15.06},{"r":15,"m":57.5,"y":14.95},{"r":15,"m":58,"y":15.07},{"r":15,"m":58.5,"y":14.94},{"r":15,"m":59,"y":15.05},{"r":15,"m":59.5,"y":14.92},{"r":15,"m":60,"y":15.06},
{"r":16,"m":0,"y":16.06},{"r":16,"m":0.5,"y":15.93},{"r":16,"m":1,"y":16.05},{"r":16,"m":1.5,"y":15.91},{"r":16,"m":2,"y":16.12},{"r":16,"m":2.5,"y":15.87},{"r":16,"m":3,"y":16.11},{"r":16,"m":3.5,"y":15.92},{"r":16,"m":4,"y":16.08},{"r":16,"m":4.5,"y":15.94},
{"r":16,"m":5,"y":16.05},{"r":16,"m":5.5,"y":15.93},{"r":16,"m":6,"y":16.06},{"r":16,"m":6.5,"y":15.92},{"r":16,"m":7,"y":16.05},{"r":16,"m":7.5,"y":15.94},{"r":16,"m":8,"y":16.07},{"r":16,"m":8.5,"y":15.95},{"r":16,"m":9,"y":16.06},{"r":16,"m":9.5,"y":15.92},
{"r":16,"m":10,"y":16.06},{"r":16,"m":10.5,"y":15.95},{"r":16,"m":11,"y":16.07},{"r":16,"m":11.5,"y":15.94},{"r":16,"m":12,"y":16.08},{"r":16,"m":12.5,"y":15.95},{"r":16,"m":13,"y":16.07},{"r":16,"m":13.5,"y":15.94},{"r":16,"m":14,"y":16.05},{"r":16,"m":14.5,"y":15.93},
{"r":16,"m":15,"y":16.08},{"r":16,"m":15.5,"y":15.94},{"r":16,"m":16,"y":16.05},{"r":16,"m":16.5,"y":15.93},{"r":16,"m":17,"y":16.06},{"r":16,"m":17.5,"y":15.92},{"r":16,"m":18,"y":16.05},{"r":16,"m":18.5,"y":15.94},{"r":16,"m":19,"y":16.07},{"r":16,"m":19.5,"y":15.91},
{"r":16,"m":20,"y":16.12},{"r":16,"m":20.5,"y":15.87},{"r":16,"m":21,"y":16.11},{"r":16,"m":21.5,"y":15.92},{"r":16,"m":22,"y":16.06},{"r":16,"m":22.5,"y":15.93},{"r":16,"m":23,"y":16.06},{"r":16,"m":23.5,"y":15.95},{"r":16,"m":24,"y":16.08},{"r":16,"m":24.5,"y":15.94},
{"r":16,"m":25,"y":16.05},{"r":16,"m":25.5,"y":15.93},{"r":16,"m":26,"y":16.06},{"r":16,"m":26.5,"y":15.92},{"r":16,"m":27,"y":16.06},{"r":16,"m":27.5,"y":15.95},{"r":16,"m":28,"y":16.07},{"r":16,"m":28.5,"y":15.94},{"r":16,"m":29,"y":16.05},{"r":16,"m":29.5,"y":15.93},
{"r":16,"m":30,"y":16.06},{"r":16,"m":30.5,"y":15.92},{"r":16,"m":31,"y":16.05},{"r":16,"m":31.5,"y":15.94},{"r":16,"m":32,"y":16.07},{"r":16,"m":32.5,"y":15.95},{"r":16,"m":33,"y":16.06},{"r":16,"m":33.5,"y":15.92},{"r":16,"m":34,"y":16.06},{"r":16,"m":34.5,"y":15.95},
{"r":16,"m":35,"y":16.07},{"r":16,"m":35.5,"y":15.94},{"r":16,"m":36,"y":16.05},{"r":16,"m":36.5,"y":15.93},{"r":16,"m":37,"y":16.08},{"r":16,"m":37.5,"y":15.94},{"r":16,"m":38,"y":16.05},{"r":16,"m":38.5,"y":15.93},{"r":16,"m":39,"y":16.06},{"r":16,"m":39.5,"y":15.95},
{"r":16,"m":40,"y":16.11},{"r":16,"m":40.5,"y":15.85},{"r":16,"m":41,"y":16.18},{"r":16,"m":41.5,"y":15.85},{"r":16,"m":42,"y":16.1},{"r":16,"m":42.5,"y":15.93},{"r":16,"m":43,"y":16.05},{"r":16,"m":43.5,"y":15.92},{"r":16,"m":44,"y":16.06},{"r":16,"m":44.5,"y":15.95},
{"r":16,"m":45,"y":16.07},{"r":16,"m":45.5,"y":15.89},{"r":16,"m":46,"y":16.15},{"r":16,"m":46.5,"y":15.82},{"r":16,"m":47,"y":16.15},{"r":16,"m":47.5,"y":15.9},{"r":16,"m":48,"y":16.05},{"r":16,"m":48.5,"y":15.94},{"r":16,"m":49,"y":16.07},{"r":16,"m":49.5,"y":15.94},
{"r":16,"m":50,"y":16.05},{"r":16,"m":50.5,"y":15.92},{"r":16,"m":51,"y":16.06},{"r":16,"m":51.5,"y":15.93},{"r":16,"m":52,"y":16.05},{"r":16,"m":52.5,"y":15.94},{"r":16,"m":53,"y":16.08},{"r":16,"m":53.5,"y":15.95},{"r":16,"m":54,"y":16.06},{"r":16,"m":54.5,"y":15.93},
{"r":16,"m":55,"y":16.06},{"r":16,"m":55.5,"y":15.95},{"r":16,"m":56,"y":16.07},{"r":16,"m":56.5,"y":15.92},{"r":16,"m":57,"y":16.06},{"r":16,"m":57.5,"y":15.95},{"r":16,"m":58,"y":16.09},{"r":16,"m":58.5,"y":15.88},{"r":16,"m":59,"y":16.13},{"r":16,"m":59.5,"y":15.89},{"r":16,"m":60,"y":16.08},
{"r":17,"m":0,"y":17.06},{"r":17,"m":0.5,"y":16.93},{"r":17,"m":1,"y":17.05},{"r":17,"m":1.5,"y":16.92},{"r":17,"m":2,"y":17.06},{"r":17,"m":2.5,"y":16.93},{"r":17,"m":3,"y":17.05},{"r":17,"m":3.5,"y":16.94},{"r":17,"m":4,"y":17.08},{"r":17,"m":4.5,"y":16.94},
{"r":17,"m":5,"y":17.05},{"r":17,"m":5.5,"y":16.93},{"r":17,"m":6,"y":17.06},{"r":17,"m":6.5,"y":16.92},{"r":17,"m":7,"y":17.09},{"r":17,"m":7.5,"y":16.88},{"r":17,"m":8,"y":17.13},{"r":17,"m":8.5,"y":16.89},{"r":17,"m":9,"y":17.08},{"r":17,"m":9.5,"y":16.92},
{"r":17,"m":10,"y":17.06},{"r":17,"m":10.5,"y":16.95},{"r":17,"m":11,"y":17.07},{"r":17,"m":11.5,"y":16.94},{"r":17,"m":12,"y":17.08},{"r":17,"m":12.5,"y":16.95},{"r":17,"m":13,"y":17.07},{"r":17,"m":13.5,"y":16.94},{"r":17,"m":14,"y":17.05},{"r":17,"m":14.5,"y":16.91},
{"r":17,"m":15,"y":17.12},{"r":17,"m":15.5,"y":16.87},{"r":17,"m":16,"y":17.11},{"r":17,"m":16.5,"y":16.92},{"r":17,"m":17,"y":17.06},{"r":17,"m":17.5,"y":16.92},{"r":17,"m":18,"y":17.05},{"r":17,"m":18.5,"y":16.94},{"r":17,"m":19,"y":17.07},{"r":17,"m":19.5,"y":16.95},
{"r":17,"m":20,"y":17.07},{"r":17,"m":20.5,"y":16.94},{"r":17,"m":21,"y":17.08},{"r":17,"m":21.5,"y":16.95},{"r":17,"m":22,"y":17.06},{"r":17,"m":22.5,"y":16.93},{"r":17,"m":23,"y":17.06},{"r":17,"m":23.5,"y":16.95},{"r":17,"m":24,"y":17.09},{"r":17,"m":24.5,"y":16.88},
{"r":17,"m":25,"y":17.13},{"r":17,"m":25.5,"y":16.89},{"r":17,"m":26,"y":17.08},{"r":17,"m":26.5,"y":16.92},{"r":17,"m":27,"y":17.06},{"r":17,"m":27.5,"y":16.95},{"r":17,"m":28,"y":17.07},{"r":17,"m":28.5,"y":16.91},{"r":17,"m":29,"y":17.12},{"r":17,"m":29.5,"y":16.87},
{"r":17,"m":30,"y":17.11},{"r":17,"m":30.5,"y":16.92},{"r":17,"m":31,"y":17.05},{"r":17,"m":31.5,"y":16.94},{"r":17,"m":32,"y":17.07},{"r":17,"m":32.5,"y":16.95},{"r":17,"m":33,"y":17.06},{"r":17,"m":33.5,"y":16.92},{"r":17,"m":34,"y":17.06},{"r":17,"m":34.5,"y":16.95},
{"r":17,"m":35,"y":17.07},{"r":17,"m":35.5,"y":16.94},{"r":17,"m":36,"y":17.05},{"r":17,"m":36.5,"y":16.93},{"r":17,"m":37,"y":17.08},{"r":17,"m":37.5,"y":16.94},{"r":17,"m":38,"y":17.05},{"r":17,"m":38.5,"y":16.93},{"r":17,"m":39,"y":17.09},{"r":17,"m":39.5,"y":16.88},
{"r":17,"m":40,"y":17.13},{"r":17,"m":40.5,"y":16.89},{"r":17,"m":41,"y":17.08},{"r":17,"m":41.5,"y":16.95},{"r":17,"m":42,"y":17.06},{"r":17,"m":42.5,"y":16.93},{"r":17,"m":43,"y":17.05},{"r":17,"m":43.5,"y":16.91},{"r":17,"m":44,"y":17.12},{"r":17,"m":44.5,"y":16.87},
{"r":17,"m":45,"y":17.11},{"r":17,"m":45.5,"y":16.92},{"r":17,"m":46,"y":17.05},{"r":17,"m":46.5,"y":16.92},{"r":17,"m":47,"y":17.06},{"r":17,"m":47.5,"y":16.93},{"r":17,"m":48,"y":17.05},{"r":17,"m":48.5,"y":16.94},{"r":17,"m":49,"y":17.07},{"r":17,"m":49.5,"y":16.94},
{"r":17,"m":50,"y":17.05},{"r":17,"m":50.5,"y":16.92},{"r":17,"m":51,"y":17.06},{"r":17,"m":51.5,"y":16.93},{"r":17,"m":52,"y":17.05},{"r":17,"m":52.5,"y":16.94},{"r":17,"m":53,"y":17.08},{"r":17,"m":53.5,"y":16.95},{"r":17,"m":54,"y":17.06},{"r":17,"m":54.5,"y":16.93},
{"r":17,"m":55,"y":17.06},{"r":17,"m":55.5,"y":16.95},{"r":17,"m":56,"y":17.09},{"r":17,"m":56.5,"y":16.88},{"r":17,"m":57,"y":17.13},{"r":17,"m":57.5,"y":16.89},{"r":17,"m":58,"y":17.08},{"r":17,"m":58.5,"y":16.94},{"r":17,"m":59,"y":17.05},{"r":17,"m":59.5,"y":16.92},{"r":17,"m":60,"y":17.06},
{"r":18,"m":0,"y":18.06},{"r":18,"m":0.5,"y":17.93},{"r":18,"m":1,"y":18.05},{"r":18,"m":1.5,"y":17.92},{"r":18,"m":2,"y":18.06},{"r":18,"m":2.5,"y":17.93},{"r":18,"m":3,"y":18.05},{"r":18,"m":3.5,"y":17.94},{"r":18,"m":4,"y":18.08},{"r":18,"m":4.5,"y":17.94},
{"r":18,"m":5,"y":18.05},{"r":18,"m":5.5,"y":17.93},{"r":18,"m":6,"y":18.06},{"r":18,"m":6.5,"y":17.92},{"r":18,"m":7,"y":18.09},{"r":18,"m":7.5,"y":17.88},{"r":18,"m":8,"y":18.13},{"r":18,"m":8.5,"y":17.89},{"r":18,"m":9,"y":18.08},{"r":18,"m":9.5,"y":17.92},
{"r":18,"m":10,"y":18.06},{"r":18,"m":10.5,"y":17.95},{"r":18,"m":11,"y":18.07},{"r":18,"m":11.5,"y":17.94},{"r":18,"m":12,"y":18.08},{"r":18,"m":12.5,"y":17.95},{"r":18,"m":13,"y":18.07},{"r":18,"m":13.5,"y":17.94},{"r":18,"m":14,"y":18.05},{"r":18,"m":14.5,"y":17.93},
{"r":18,"m":15,"y":18.08},{"r":18,"m":15.5,"y":17.94},{"r":18,"m":16,"y":18.05},{"r":18,"m":16.5,"y":17.93},{"r":18,"m":17,"y":18.06},{"r":18,"m":17.5,"y":17.92},{"r":18,"m":18,"y":18.05},{"r":18,"m":18.5,"y":17.94},{"r":18,"m":19,"y":18.07},{"r":18,"m":19.5,"y":17.95},
{"r":18,"m":20,"y":18.07},{"r":18,"m":20.5,"y":17.94},{"r":18,"m":21,"y":18.08},{"r":18,"m":21.5,"y":17.91},{"r":18,"m":22,"y":18.12},{"r":18,"m":22.5,"y":17.87},{"r":18,"m":23,"y":18.11},{"r":18,"m":23.5,"y":17.92},{"r":18,"m":24,"y":18.08},{"r":18,"m":24.5,"y":17.94},
{"r":18,"m":25,"y":18.05},{"r":18,"m":25.5,"y":17.93},{"r":18,"m":26,"y":18.06},{"r":18,"m":26.5,"y":17.92},{"r":18,"m":27,"y":18.06},{"r":18,"m":27.5,"y":17.95},{"r":18,"m":28,"y":18.07},{"r":18,"m":28.2,"y":17.94},{"r":18,"m":28.4,"y":18.05},{"r":18,"m":28.55,"y":17.71},{"r":18,"m":28.7,"y":18.02},{"r":18,"m":28.85,"y":18.29},{"r":18,"m":29,"y":17.85},{"r":18,"m":29.1,"y":17.61},{"r":18,"m":29.2,"y":18.3},{"r":18,"m":29.3,"y":17.8},
{"r":18,"m":29.4,"y":18.46},{"r":18,"m":29.5,"y":17.65},{"r":18,"m":29.6,"y":18.42},{"r":18,"m":29.7,"y":17.7},{"r":18,"m":29.75,"y":18.77},{"r":18,"m":29.85,"y":17.55},{"r":18,"m":29.95,"y":18.35},{"r":18,"m":30,"y":17.44},{"r":18,"m":30.1,"y":18.4},{"r":18,"m":30.2,"y":17.5},
{"r":18,"m":30.3,"y":18.45},{"r":18,"m":30.4,"y":17.65},{"r":18,"m":30.5,"y":18.5},{"r":18,"m":30.6,"y":17.55},{"r":18,"m":30.7,"y":18.6},{"r":18,"m":30.8,"y":17.38},{"r":18,"m":30.9,"y":18.55},{"r":18,"m":31,"y":17.3},{"r":18,"m":31.1,"y":18.87},{"r":18,"m":31.2,"y":17.2},
{"r":18,"m":31.25,"y":18.9},{"r":18,"m":31.3,"y":16.94},{"r":18,"m":31.35,"y":18.9},{"r":18,"m":31.45,"y":17.25},{"r":18,"m":31.55,"y":18.6},{"r":18,"m":31.65,"y":17.55},{"r":18,"m":31.75,"y":18.55},{"r":18,"m":31.85,"y":17.5},{"r":18,"m":31.95,"y":18.58},{"r":18,"m":32.05,"y":17.4},
{"r":18,"m":32.15,"y":18.65},{"r":18,"m":32.25,"y":17.32},{"r":18,"m":32.35,"y":18.5},{"r":18,"m":32.45,"y":17.65},{"r":18,"m":32.55,"y":18.3},{"r":18,"m":32.65,"y":17.78},{"r":18,"m":32.75,"y":18.3},{"r":18,"m":32.9,"y":17.75},{"r":18,"m":33,"y":18.22},{"r":18,"m":33.15,"y":17.75},
{"r":18,"m":33.3,"y":18.2},{"r":18,"m":33.45,"y":17.78},{"r":18,"m":33.6,"y":18.25},{"r":18,"m":33.75,"y":17.8},{"r":18,"m":33.9,"y":18.18},{"r":18,"m":34.05,"y":17.78},{"r":18,"m":34.2,"y":18.2},{"r":18,"m":34.35,"y":17.82},{"r":18,"m":34.5,"y":18.22},{"r":18,"m":34.65,"y":17.83},
{"r":18,"m":34.8,"y":18.19},{"r":18,"m":34.95,"y":17.8},{"r":18,"m":35.1,"y":18.16},{"r":18,"m":35.2,"y":17.68},{"r":18,"m":35.35,"y":18.18},{"r":18,"m":35.5,"y":17.85},{"r":18,"m":35.65,"y":18.14},{"r":18,"m":35.8,"y":17.84},{"r":18,"m":36,"y":18.13},{"r":18,"m":36.25,"y":17.86},
{"r":18,"m":36.5,"y":18.12},{"r":18,"m":36.75,"y":17.87},{"r":18,"m":37,"y":18.14},{"r":18,"m":37.25,"y":17.88},{"r":18,"m":37.5,"y":18.13},{"r":18,"m":37.75,"y":17.86},{"r":18,"m":38,"y":18.11},{"r":18,"m":38.25,"y":17.87},{"r":18,"m":38.5,"y":18.12},{"r":18,"m":38.75,"y":17.89},
{"r":18,"m":39,"y":18.12},{"r":18,"m":39.25,"y":17.9},{"r":18,"m":39.5,"y":18.12},{"r":18,"m":39.75,"y":17.87},{"r":18,"m":40,"y":18.11},{"r":18,"m":40.25,"y":17.9},{"r":18,"m":40.5,"y":18.22},{"r":18,"m":40.75,"y":17.91},{"r":18,"m":41,"y":18.1},{"r":18,"m":41.5,"y":17.92},{"r":18,"m":42,"y":18.09},
{"r":18,"m":42.5,"y":17.93},{"r":18,"m":43,"y":18.05},{"r":18,"m":43.5,"y":17.92},{"r":18,"m":44,"y":18.06},{"r":18,"m":44.5,"y":17.95},
{"r":18,"m":45,"y":18.07},{"r":18,"m":45.5,"y":17.94},{"r":18,"m":46,"y":18.05},{"r":18,"m":46.5,"y":17.92},{"r":18,"m":47,"y":18.06},{"r":18,"m":47.5,"y":17.91},{"r":18,"m":48,"y":18.12},{"r":18,"m":48.5,"y":17.87},{"r":18,"m":49,"y":18.11},{"r":18,"m":49.5,"y":17.92},
{"r":18,"m":50,"y":18.05},{"r":18,"m":50.5,"y":17.92},{"r":18,"m":51,"y":18.06},{"r":18,"m":51.5,"y":17.93},{"r":18,"m":52,"y":18.05},{"r":18,"m":52.5,"y":17.94},{"r":18,"m":53,"y":18.08},{"r":18,"m":53.5,"y":17.95},{"r":18,"m":54,"y":18.06},{"r":18,"m":54.5,"y":17.93},
{"r":18,"m":55,"y":18.06},{"r":18,"m":55.5,"y":17.95},{"r":18,"m":56,"y":18.07},{"r":18,"m":56.5,"y":17.92},{"r":18,"m":57,"y":18.06},{"r":18,"m":57.5,"y":17.95},{"r":18,"m":58,"y":18.09},{"r":18,"m":58.5,"y":17.88},{"r":18,"m":59,"y":18.13},{"r":18,"m":59.5,"y":17.89},{"r":18,"m":60,"y":18.08},
{"r":19,"m":0,"y":19.06},{"r":19,"m":0.5,"y":18.93},{"r":19,"m":1,"y":19.05},{"r":19,"m":1.5,"y":18.92},{"r":19,"m":2,"y":19.06},{"r":19,"m":2.5,"y":18.91},{"r":19,"m":3,"y":19.12},{"r":19,"m":3.5,"y":18.87},{"r":19,"m":4,"y":19.11},{"r":19,"m":4.5,"y":18.92},
{"r":19,"m":5,"y":19.05},{"r":19,"m":5.5,"y":18.93},{"r":19,"m":6,"y":19.06},{"r":19,"m":6.5,"y":18.92},{"r":19,"m":7,"y":19.05},{"r":19,"m":7.5,"y":18.94},{"r":19,"m":8,"y":19.07},{"r":19,"m":8.5,"y":18.95},{"r":19,"m":9,"y":19.06},{"r":19,"m":9.5,"y":18.92},
{"r":19,"m":10,"y":19.06},{"r":19,"m":10.5,"y":18.95},{"r":19,"m":11,"y":19.07},{"r":19,"m":11.5,"y":18.91},{"r":19,"m":12,"y":19.12},{"r":19,"m":12.5,"y":18.87},{"r":19,"m":13,"y":19.11},{"r":19,"m":13.5,"y":18.92},{"r":19,"m":14,"y":19.05},{"r":19,"m":14.5,"y":18.93},
{"r":19,"m":15,"y":19.08},{"r":19,"m":15.5,"y":18.94},{"r":19,"m":16,"y":19.05},{"r":19,"m":16.5,"y":18.93},{"r":19,"m":17,"y":19.06},{"r":19,"m":17.5,"y":18.92},{"r":19,"m":18,"y":19.05},{"r":19,"m":18.5,"y":18.94},{"r":19,"m":19,"y":19.09},{"r":19,"m":19.5,"y":18.88},
{"r":19,"m":20,"y":19.13},{"r":19,"m":20.5,"y":18.89},{"r":19,"m":21,"y":19.08},{"r":19,"m":21.5,"y":18.95},{"r":19,"m":22,"y":19.06},{"r":19,"m":22.5,"y":18.93},{"r":19,"m":23,"y":19.06},{"r":19,"m":23.5,"y":18.95},{"r":19,"m":24,"y":19.08},{"r":19,"m":24.5,"y":18.94},
{"r":19,"m":25,"y":19.05},{"r":19,"m":25.5,"y":18.93},{"r":19,"m":26,"y":19.06},{"r":19,"m":26.5,"y":18.92},{"r":19,"m":27,"y":19.06},{"r":19,"m":27.5,"y":18.95},{"r":19,"m":28,"y":19.07},{"r":19,"m":28.5,"y":18.94},{"r":19,"m":29,"y":19.05},{"r":19,"m":29.5,"y":18.93},
{"r":19,"m":30,"y":19.06},{"r":19,"m":30.5,"y":18.92},{"r":19,"m":31,"y":19.05},{"r":19,"m":31.5,"y":18.94},{"r":19,"m":32,"y":19.07},{"r":19,"m":32.5,"y":18.95},{"r":19,"m":33,"y":19.06},{"r":19,"m":33.5,"y":18.92},{"r":19,"m":34,"y":19.06},{"r":19,"m":34.5,"y":18.95},
{"r":19,"m":35,"y":19.07},{"r":19,"m":35.5,"y":18.94},{"r":19,"m":36,"y":19.05},{"r":19,"m":36.5,"y":18.93},{"r":19,"m":37,"y":19.08},{"r":19,"m":37.5,"y":18.94},{"r":19,"m":38,"y":19.05},{"r":19,"m":38.5,"y":18.93},{"r":19,"m":39,"y":19.06},{"r":19,"m":39.5,"y":18.91},
{"r":19,"m":40,"y":19.12},{"r":19,"m":40.5,"y":18.87},{"r":19,"m":41,"y":19.11},{"r":19,"m":41.5,"y":18.92},{"r":19,"m":42,"y":19.06},{"r":19,"m":42.5,"y":18.93},{"r":19,"m":43,"y":19.05},{"r":19,"m":43.5,"y":18.92},{"r":19,"m":44,"y":19.06},{"r":19,"m":44.5,"y":18.95},
{"r":19,"m":45,"y":19.07},{"r":19,"m":45.5,"y":18.94},{"r":19,"m":46,"y":19.05},{"r":19,"m":46.5,"y":18.92},{"r":19,"m":47,"y":19.06},{"r":19,"m":47.5,"y":18.93},{"r":19,"m":48,"y":19.05},{"r":19,"m":48.5,"y":18.94},{"r":19,"m":49,"y":19.09},{"r":19,"m":49.5,"y":18.88},
{"r":19,"m":50,"y":19.13},{"r":19,"m":50.5,"y":18.89},{"r":19,"m":51,"y":19.08},{"r":19,"m":51.5,"y":18.93},{"r":19,"m":52,"y":19.05},{"r":19,"m":52.5,"y":18.94},{"r":19,"m":53,"y":19.08},{"r":19,"m":53.5,"y":18.95},{"r":19,"m":54,"y":19.06},{"r":19,"m":54.5,"y":18.93},
{"r":19,"m":55,"y":19.06},{"r":19,"m":55.5,"y":18.95},{"r":19,"m":56,"y":19.07},{"r":19,"m":56.5,"y":18.92},{"r":19,"m":57,"y":19.09},{"r":19,"m":57.5,"y":18.88},{"r":19,"m":58,"y":19.13},{"r":19,"m":58.5,"y":18.89},{"r":19,"m":59,"y":19.08},{"r":19,"m":59.5,"y":18.92},{"r":19,"m":60,"y":19.06},
{"r":20,"m":0,"y":20.06},{"r":20,"m":0.5,"y":19.93},{"r":20,"m":1,"y":20.05},{"r":20,"m":1.5,"y":19.92},{"r":20,"m":2,"y":20.06},{"r":20,"m":2.5,"y":19.93},{"r":20,"m":3,"y":20.05},{"r":20,"m":3.5,"y":19.94},{"r":20,"m":4,"y":20.09},{"r":20,"m":4.5,"y":19.88},
{"r":20,"m":5,"y":20.13},{"r":20,"m":5.5,"y":19.89},{"r":20,"m":6,"y":20.08},{"r":20,"m":6.5,"y":19.92},{"r":20,"m":7,"y":20.05},{"r":20,"m":7.5,"y":19.94},{"r":20,"m":8,"y":20.07},{"r":20,"m":8.5,"y":19.95},{"r":20,"m":9,"y":20.06},{"r":20,"m":9.5,"y":19.92},
{"r":20,"m":10,"y":20.06},{"r":20,"m":10.5,"y":19.95},{"r":20,"m":11,"y":20.07},{"r":20,"m":11.5,"y":19.94},{"r":20,"m":12,"y":20.08},{"r":20,"m":12.5,"y":19.95},{"r":20,"m":13,"y":20.07},{"r":20,"m":13.5,"y":19.94},{"r":20,"m":14,"y":20.05},{"r":20,"m":14.5,"y":19.93},
{"r":20,"m":15,"y":20.09},{"r":20,"m":15.5,"y":19.88},{"r":20,"m":16,"y":20.13},{"r":20,"m":16.5,"y":19.89},{"r":20,"m":17,"y":20.08},{"r":20,"m":17.5,"y":19.92},{"r":20,"m":18,"y":20.05},{"r":20,"m":18.5,"y":19.94},{"r":20,"m":19,"y":20.07},{"r":20,"m":19.5,"y":19.95},
{"r":20,"m":20,"y":20.07},{"r":20,"m":20.5,"y":19.94},{"r":20,"m":21,"y":20.08},{"r":20,"m":21.5,"y":19.95},{"r":20,"m":22,"y":20.06},{"r":20,"m":22.5,"y":19.93},{"r":20,"m":23,"y":20.11},{"r":20,"m":23.5,"y":19.85},{"r":20,"m":24,"y":20.18},{"r":20,"m":24.5,"y":19.85},
{"r":20,"m":25,"y":20.1},{"r":20,"m":25.5,"y":19.93},{"r":20,"m":26,"y":20.06},{"r":20,"m":26.5,"y":19.92},{"r":20,"m":27,"y":20.06},{"r":20,"m":27.5,"y":19.95},{"r":20,"m":28,"y":20.07},{"r":20,"m":28.5,"y":19.91},{"r":20,"m":29,"y":20.12},{"r":20,"m":29.5,"y":19.87},
{"r":20,"m":30,"y":20.11},{"r":20,"m":30.5,"y":19.92},{"r":20,"m":31,"y":20.05},{"r":20,"m":31.5,"y":19.94},{"r":20,"m":32,"y":20.07},{"r":20,"m":32.5,"y":19.95},{"r":20,"m":33,"y":20.06},{"r":20,"m":33.5,"y":19.92},{"r":20,"m":34,"y":20.06},{"r":20,"m":34.5,"y":19.95},
{"r":20,"m":35,"y":20.07},{"r":20,"m":35.5,"y":19.94},{"r":20,"m":36,"y":20.05},{"r":20,"m":36.5,"y":19.93},{"r":20,"m":37,"y":20.08},{"r":20,"m":37.5,"y":19.94},{"r":20,"m":38,"y":20.05},{"r":20,"m":38.5,"y":19.93},{"r":20,"m":39,"y":20.06},{"r":20,"m":39.5,"y":19.95},
{"r":20,"m":40,"y":20.08},{"r":20,"m":40.5,"y":19.94},{"r":20,"m":41,"y":20.07},{"r":20,"m":41.5,"y":19.95},{"r":20,"m":42,"y":20.06},{"r":20,"m":42.5,"y":19.93},{"r":20,"m":43,"y":20.05},{"r":20,"m":43.5,"y":19.92},{"r":20,"m":44,"y":20.06},{"r":20,"m":44.5,"y":19.95},
{"r":20,"m":45,"y":20.07},{"r":20,"m":45.5,"y":19.91},{"r":20,"m":46,"y":20.12},{"r":20,"m":46.5,"y":19.87},{"r":20,"m":47,"y":20.11},{"r":20,"m":47.5,"y":19.92},{"r":20,"m":48,"y":20.05},{"r":20,"m":48.5,"y":19.94},{"r":20,"m":49,"y":20.11},{"r":20,"m":49.5,"y":19.85},
{"r":20,"m":50,"y":20.18},{"r":20,"m":50.5,"y":19.85},{"r":20,"m":51,"y":20.1},{"r":20,"m":51.5,"y":19.93},{"r":20,"m":52,"y":20.05},{"r":20,"m":52.5,"y":19.94},{"r":20,"m":53,"y":20.08},{"r":20,"m":53.5,"y":19.95},{"r":20,"m":54,"y":20.06},{"r":20,"m":54.5,"y":19.93},
{"r":20,"m":55,"y":20.06},{"r":20,"m":55.5,"y":19.95},{"r":20,"m":56,"y":20.07},{"r":20,"m":56.5,"y":19.92},{"r":20,"m":57,"y":20.06},{"r":20,"m":57.5,"y":19.95},{"r":20,"m":58,"y":20.07},{"r":20,"m":58.5,"y":19.94},{"r":20,"m":59,"y":20.05},{"r":20,"m":59.5,"y":19.92},{"r":20,"m":60,"y":20.06},
{"r":21,"m":0,"y":21.06},{"r":21,"m":0.5,"y":20.93},{"r":21,"m":1,"y":21.05},{"r":21,"m":1.5,"y":20.92},{"r":21,"m":2,"y":21.06},{"r":21,"m":2.5,"y":20.89},{"r":21,"m":3,"y":21.15},{"r":21,"m":3.5,"y":20.82},{"r":21,"m":4,"y":21.15},{"r":21,"m":4.5,"y":20.9},
{"r":21,"m":5,"y":21.05},{"r":21,"m":5.5,"y":20.93},{"r":21,"m":6,"y":21.06},{"r":21,"m":6.5,"y":20.92},{"r":21,"m":7,"y":21.05},{"r":21,"m":7.5,"y":20.94},{"r":21,"m":8,"y":21.09},{"r":21,"m":8.5,"y":20.88},{"r":21,"m":9,"y":21.13},{"r":21,"m":9.5,"y":20.89},
{"r":21,"m":10,"y":21.08},{"r":21,"m":10.5,"y":20.95},{"r":21,"m":11,"y":21.07},{"r":21,"m":11.5,"y":20.94},{"r":21,"m":12,"y":21.08},{"r":21,"m":12.5,"y":20.95},{"r":21,"m":13,"y":21.07},{"r":21,"m":13.5,"y":20.94},{"r":21,"m":14,"y":21.05},{"r":21,"m":14.5,"y":20.93},
{"r":21,"m":15,"y":21.08},{"r":21,"m":15.5,"y":20.94},{"r":21,"m":16,"y":21.05},{"r":21,"m":16.5,"y":20.93},{"r":21,"m":17,"y":21.06},{"r":21,"m":17.5,"y":20.92},{"r":21,"m":18,"y":21.05},{"r":21,"m":18.5,"y":20.94},{"r":21,"m":19,"y":21.07},{"r":21,"m":19.5,"y":20.95},
{"r":21,"m":20,"y":21.11},{"r":21,"m":20.5,"y":20.85},{"r":21,"m":21,"y":21.18},{"r":21,"m":21.5,"y":20.85},{"r":21,"m":22,"y":21.1},{"r":21,"m":22.5,"y":20.93},{"r":21,"m":23,"y":21.06},{"r":21,"m":23.5,"y":20.95},{"r":21,"m":24,"y":21.09},{"r":21,"m":24.5,"y":20.88},
{"r":21,"m":25,"y":21.13},{"r":21,"m":25.5,"y":20.89},{"r":21,"m":26,"y":21.08},{"r":21,"m":26.5,"y":20.92},{"r":21,"m":27,"y":21.06},{"r":21,"m":27.5,"y":20.91},{"r":21,"m":28,"y":21.12},{"r":21,"m":28.5,"y":20.87},{"r":21,"m":29,"y":21.11},{"r":21,"m":29.5,"y":20.92},
{"r":21,"m":30,"y":21.06},{"r":21,"m":30.5,"y":20.92},{"r":21,"m":31,"y":21.05},{"r":21,"m":31.5,"y":20.94},{"r":21,"m":32,"y":21.07},{"r":21,"m":32.5,"y":20.91},{"r":21,"m":33,"y":21.12},{"r":21,"m":33.5,"y":20.87},{"r":21,"m":34,"y":21.11},{"r":21,"m":34.5,"y":20.92},
{"r":21,"m":35,"y":21.07},{"r":21,"m":35.5,"y":20.94},{"r":21,"m":36,"y":21.05},{"r":21,"m":36.5,"y":20.93},{"r":21,"m":37,"y":21.08},{"r":21,"m":37.5,"y":20.94},{"r":21,"m":38,"y":21.05},{"r":21,"m":38.5,"y":20.93},{"r":21,"m":39,"y":21.06},{"r":21,"m":39.5,"y":20.91},
{"r":21,"m":40,"y":21.12},{"r":21,"m":40.5,"y":20.87},{"r":21,"m":41,"y":21.11},{"r":21,"m":41.5,"y":20.92},{"r":21,"m":42,"y":21.06},{"r":21,"m":42.5,"y":20.91},{"r":21,"m":43,"y":21.12},{"r":21,"m":43.5,"y":20.87},{"r":21,"m":44,"y":21.11},{"r":21,"m":44.5,"y":20.92},
{"r":21,"m":45,"y":21.07},{"r":21,"m":45.5,"y":20.94},{"r":21,"m":46,"y":21.05},{"r":21,"m":46.5,"y":20.92},{"r":21,"m":47,"y":21.06},{"r":21,"m":47.5,"y":20.93},{"r":21,"m":48,"y":21.05},{"r":21,"m":48.5,"y":20.94},{"r":21,"m":49,"y":21.07},{"r":21,"m":49.5,"y":20.94},
{"r":21,"m":50,"y":21.05},{"r":21,"m":50.5,"y":20.92},{"r":21,"m":51,"y":21.06},{"r":21,"m":51.5,"y":20.93},{"r":21,"m":52,"y":21.05},{"r":21,"m":52.5,"y":20.94},{"r":21,"m":53,"y":21.08},{"r":21,"m":53.5,"y":20.95},{"r":21,"m":54,"y":21.06},{"r":21,"m":54.5,"y":20.93},
{"r":21,"m":55,"y":21.06},{"r":21,"m":55.5,"y":20.95},{"r":21,"m":56,"y":21.07},{"r":21,"m":56.5,"y":20.92},{"r":21,"m":57,"y":21.06},{"r":21,"m":57.5,"y":20.95},{"r":21,"m":58,"y":21.07},{"r":21,"m":58.5,"y":20.94},{"r":21,"m":59,"y":21.05},{"r":21,"m":59.5,"y":20.92},{"r":21,"m":60,"y":21.06},
{"r":22,"m":0,"y":22.06},{"r":22,"m":0.5,"y":21.93},{"r":22,"m":1,"y":22.05},{"r":22,"m":1.5,"y":21.92},{"r":22,"m":2,"y":22.06},{"r":22,"m":2.5,"y":21.93},{"r":22,"m":3,"y":22.05},{"r":22,"m":3.5,"y":21.94},{"r":22,"m":4,"y":22.08},{"r":22,"m":4.5,"y":21.94},
{"r":22,"m":5,"y":22.05},{"r":22,"m":5.5,"y":21.93},{"r":22,"m":6,"y":22.06},{"r":22,"m":6.5,"y":21.92},{"r":22,"m":7,"y":22.05},{"r":22,"m":7.5,"y":21.94},{"r":22,"m":8,"y":22.07},{"r":22,"m":8.5,"y":21.95},{"r":22,"m":9,"y":22.06},{"r":22,"m":9.5,"y":21.92},
{"r":22,"m":10,"y":22.06},{"r":22,"m":10.5,"y":21.95},{"r":22,"m":11,"y":22.07},{"r":22,"m":11.5,"y":21.94},{"r":22,"m":12,"y":22.08},{"r":22,"m":12.5,"y":21.95},{"r":22,"m":13,"y":22.07},{"r":22,"m":13.5,"y":21.94},{"r":22,"m":14,"y":22.05},{"r":22,"m":14.5,"y":21.91},
{"r":22,"m":15,"y":22.12},{"r":22,"m":15.5,"y":21.87},{"r":22,"m":16,"y":22.11},{"r":22,"m":16.5,"y":21.92},{"r":22,"m":17,"y":22.09},{"r":22,"m":17.5,"y":21.88},{"r":22,"m":18,"y":22.13},{"r":22,"m":18.5,"y":21.89},{"r":22,"m":19,"y":22.08},{"r":22,"m":19.5,"y":21.95},
{"r":22,"m":20,"y":22.07},{"r":22,"m":20.5,"y":21.94},{"r":22,"m":21,"y":22.08},{"r":22,"m":21.5,"y":21.95},{"r":22,"m":22,"y":22.06},{"r":22,"m":22.5,"y":21.93},{"r":22,"m":23,"y":22.06},{"r":22,"m":23.5,"y":21.91},{"r":22,"m":24,"y":22.12},{"r":22,"m":24.5,"y":21.87},
{"r":22,"m":25,"y":22.11},{"r":22,"m":25.5,"y":21.92},{"r":22,"m":26,"y":22.06},{"r":22,"m":26.5,"y":21.92},{"r":22,"m":27,"y":22.06},{"r":22,"m":27.5,"y":21.95},{"r":22,"m":28,"y":22.07},{"r":22,"m":28.5,"y":21.94},{"r":22,"m":29,"y":22.05},{"r":22,"m":29.5,"y":21.93},
{"r":22,"m":30,"y":22.06},{"r":22,"m":30.5,"y":21.92},{"r":22,"m":31,"y":22.05},{"r":22,"m":31.5,"y":21.94},{"r":22,"m":32,"y":22.11},{"r":22,"m":32.5,"y":21.85},{"r":22,"m":33,"y":22.18},{"r":22,"m":33.5,"y":21.85},{"r":22,"m":34,"y":22.1},{"r":22,"m":34.5,"y":21.95},
{"r":22,"m":35,"y":22.07},{"r":22,"m":35.5,"y":21.94},{"r":22,"m":36,"y":22.05},{"r":22,"m":36.5,"y":21.93},{"r":22,"m":37,"y":22.08},{"r":22,"m":37.5,"y":21.91},{"r":22,"m":38,"y":22.12},{"r":22,"m":38.5,"y":21.87},{"r":22,"m":39,"y":22.11},{"r":22,"m":39.5,"y":21.92},
{"r":22,"m":40,"y":22.08},{"r":22,"m":40.5,"y":21.94},{"r":22,"m":41,"y":22.07},{"r":22,"m":41.5,"y":21.95},{"r":22,"m":42,"y":22.06},{"r":22,"m":42.5,"y":21.93},{"r":22,"m":43,"y":22.05},{"r":22,"m":43.5,"y":21.92},{"r":22,"m":44,"y":22.06},{"r":22,"m":44.5,"y":21.95},
{"r":22,"m":45,"y":22.07},{"r":22,"m":45.5,"y":21.91},{"r":22,"m":46,"y":22.12},{"r":22,"m":46.5,"y":21.87},{"r":22,"m":47,"y":22.11},{"r":22,"m":47.5,"y":21.92},{"r":22,"m":48,"y":22.05},{"r":22,"m":48.5,"y":21.94},{"r":22,"m":49,"y":22.07},{"r":22,"m":49.5,"y":21.94},
{"r":22,"m":50,"y":22.05},{"r":22,"m":50.5,"y":21.92},{"r":22,"m":51,"y":22.06},{"r":22,"m":51.5,"y":21.93},{"r":22,"m":52,"y":22.05},{"r":22,"m":52.5,"y":21.94},{"r":22,"m":53,"y":22.08},{"r":22,"m":53.5,"y":21.95},{"r":22,"m":54,"y":22.09},{"r":22,"m":54.5,"y":21.88},
{"r":22,"m":55,"y":22.13},{"r":22,"m":55.5,"y":21.89},{"r":22,"m":56,"y":22.08},{"r":22,"m":56.5,"y":21.92},{"r":22,"m":57,"y":22.06},{"r":22,"m":57.5,"y":21.95},{"r":22,"m":58,"y":22.07},{"r":22,"m":58.5,"y":21.94},{"r":22,"m":59,"y":22.05},{"r":22,"m":59.5,"y":21.92},{"r":22,"m":60,"y":22.06},
{"r":23,"m":0,"y":23.06},{"r":23,"m":0.5,"y":22.93},{"r":23,"m":1,"y":23.05},{"r":23,"m":1.5,"y":22.92},{"r":23,"m":2,"y":23.06},{"r":23,"m":2.5,"y":22.93},{"r":23,"m":3,"y":23.05},{"r":23,"m":3.5,"y":22.89},{"r":23,"m":4,"y":23.15},{"r":23,"m":4.5,"y":22.82},
{"r":23,"m":5,"y":23.15},{"r":23,"m":5.5,"y":22.88},{"r":23,"m":6,"y":23.13},{"r":23,"m":6.5,"y":22.89},{"r":23,"m":7,"y":23.08},{"r":23,"m":7.5,"y":22.94},{"r":23,"m":8,"y":23.07},{"r":23,"m":8.5,"y":22.95},{"r":23,"m":9,"y":23.06},{"r":23,"m":9.5,"y":22.92},
{"r":23,"m":10,"y":23.06},{"r":23,"m":10.5,"y":22.95},{"r":23,"m":11,"y":23.07},{"r":23,"m":11.5,"y":22.94},{"r":23,"m":12,"y":23.08},{"r":23,"m":12.5,"y":22.95},{"r":23,"m":13,"y":23.07},{"r":23,"m":13.5,"y":22.94},{"r":23,"m":14,"y":23.05},{"r":23,"m":14.5,"y":22.93},
{"r":23,"m":15,"y":23.08},{"r":23,"m":15.5,"y":22.91},{"r":23,"m":16,"y":23.12},{"r":23,"m":16.5,"y":22.87},{"r":23,"m":17,"y":23.11},{"r":23,"m":17.5,"y":22.92},{"r":23,"m":18,"y":23.05},{"r":23,"m":18.5,"y":22.94},{"r":23,"m":19,"y":23.07},{"r":23,"m":19.5,"y":22.95},
{"r":23,"m":20,"y":23.07},{"r":23,"m":20.5,"y":22.94},{"r":23,"m":21,"y":23.08},{"r":23,"m":21.5,"y":22.95},{"r":23,"m":22,"y":23.06},{"r":23,"m":22.5,"y":22.93},{"r":23,"m":23,"y":23.06},{"r":23,"m":23.5,"y":22.95},{"r":23,"m":24,"y":23.08},{"r":23,"m":24.5,"y":22.94},
{"r":23,"m":25,"y":23.05},{"r":23,"m":25.5,"y":22.93},{"r":23,"m":26,"y":23.06},{"r":23,"m":26.5,"y":22.92},{"r":23,"m":27,"y":23.06},{"r":23,"m":27.5,"y":22.95},{"r":23,"m":28,"y":23.07},{"r":23,"m":28.5,"y":22.94},{"r":23,"m":29,"y":23.05},{"r":23,"m":29.5,"y":22.93},
{"r":23,"m":30,"y":23.06},{"r":23,"m":30.5,"y":22.92},{"r":23,"m":31,"y":23.05},{"r":23,"m":31.5,"y":22.94},{"r":23,"m":32,"y":23.07},{"r":23,"m":32.5,"y":22.91},{"r":23,"m":33,"y":23.12},{"r":23,"m":33.5,"y":22.87},{"r":23,"m":34,"y":23.11},{"r":23,"m":34.5,"y":22.92},
{"r":23,"m":35,"y":23.07},{"r":23,"m":35.5,"y":22.94},{"r":23,"m":36,"y":23.05},{"r":23,"m":36.5,"y":22.93},{"r":23,"m":37,"y":23.08},{"r":23,"m":37.5,"y":22.94},{"r":23,"m":38,"y":23.05},{"r":23,"m":38.5,"y":22.91},{"r":23,"m":39,"y":23.12},{"r":23,"m":39.5,"y":22.87},
{"r":23,"m":40,"y":23.11},{"r":23,"m":40.5,"y":22.92},{"r":23,"m":41,"y":23.07},{"r":23,"m":41.5,"y":22.95},{"r":23,"m":42,"y":23.06},{"r":23,"m":42.5,"y":22.93},{"r":23,"m":43,"y":23.05},{"r":23,"m":43.5,"y":22.92},{"r":23,"m":44,"y":23.06},{"r":23,"m":44.5,"y":22.95},
{"r":23,"m":45,"y":23.07},{"r":23,"m":45.5,"y":22.94},{"r":23,"m":46,"y":23.05},{"r":23,"m":46.5,"y":22.92},{"r":23,"m":47,"y":23.06},{"r":23,"m":47.5,"y":22.93},{"r":23,"m":48,"y":23.05},{"r":23,"m":48.5,"y":22.94},{"r":23,"m":49,"y":23.07},{"r":23,"m":49.5,"y":22.94},
{"r":23,"m":50,"y":23.05},{"r":23,"m":50.5,"y":22.92},{"r":23,"m":51,"y":23.06},{"r":23,"m":51.5,"y":22.93},{"r":23,"m":52,"y":23.05},{"r":23,"m":52.5,"y":22.94},{"r":23,"m":53,"y":23.09},{"r":23,"m":53.5,"y":22.88},{"r":23,"m":54,"y":23.13},{"r":23,"m":54.5,"y":22.89},
{"r":23,"m":55,"y":23.08},{"r":23,"m":55.5,"y":22.95},{"r":23,"m":56,"y":23.07},{"r":23,"m":56.5,"y":22.92},{"r":23,"m":57,"y":23.06},{"r":23,"m":57.5,"y":22.95},{"r":23,"m":58,"y":23.07},{"r":23,"m":58.5,"y":22.94},{"r":23,"m":59,"y":23.05},{"r":23,"m":59.5,"y":22.92},{"r":23,"m":60,"y":23.06}
]},
"layer":[
{"mark":{"type":"area","color":"#4a4a4a","opacity":0.75},
"encoding":{
"x":{"field":"m","type":"quantitative","scale":{"domain":[0,60],"nice":false,"zero":false},
"axis":{"values":[6,12,18,24,30,36,42,48,54,60],"labelExpr":"datum.value%60<10?'0'+(datum.value%60):''+datum.value","title":"Time: Minutes","grid":true,"gridDash":[3,3],"gridColor":"#d4d4d4","ticks":false,"labelPadding":5,"titlePadding":5}},
"y":{"field":"y","type":"quantitative","stack":null,"scale":{"domain":[-0.15,24],"reverse":true,"nice":false,"zero":false},
"axis":{"orient":"left","values":[0,1,2,3,4,5,6,7,8,9,10,11,12,13,14,15,16,17,18,19,20,21,22,23,24],"labelExpr":"(datum.value%24<10?'0':'')+(datum.value%24)+':00'","title":null,"grid":false,"tickSize":5,"labelPadding":2}},
"y2":{"field":"r"},
"detail":{"field":"r","type":"nominal"}
}},
{"mark":{"type":"line","color":"#111111","strokeWidth":0.8,"strokeJoin":"round"},
"encoding":{
"x":{"field":"m","type":"quantitative"},
"y":{"field":"y","type":"quantitative","axis":null},
"detail":{"field":"r","type":"nominal"}
}},
{"data":{"values":[{}]},
"mark":{"type":"rule","color":"#000000","strokeWidth":2},
"encoding":{
"x":{"datum":63.9,"type":"quantitative","scale":{"domain":[0,60],"nice":false,"zero":false}},
"y":{"datum":11.84,"type":"quantitative","scale":{"domain":[-0.15,24],"reverse":true,"nice":false,"zero":false},
"axis":{"orient":"right","values":[0,1,2,3,4,5,6,7,8,9,10,11,12,13,14,15,16,17,18,19,20,21,22,23,24],"labelExpr":"(((datum.value+1)%24)<10?'0':'')+((datum.value+1)%24)+':00'","title":"scale: 9537 nm/s","titleAngle":90,"titleY":516,"grid":false,"tickSize":5,"labelPadding":2,"titlePadding":12}},
"y2":{"datum":12.86}
}}
]
}
